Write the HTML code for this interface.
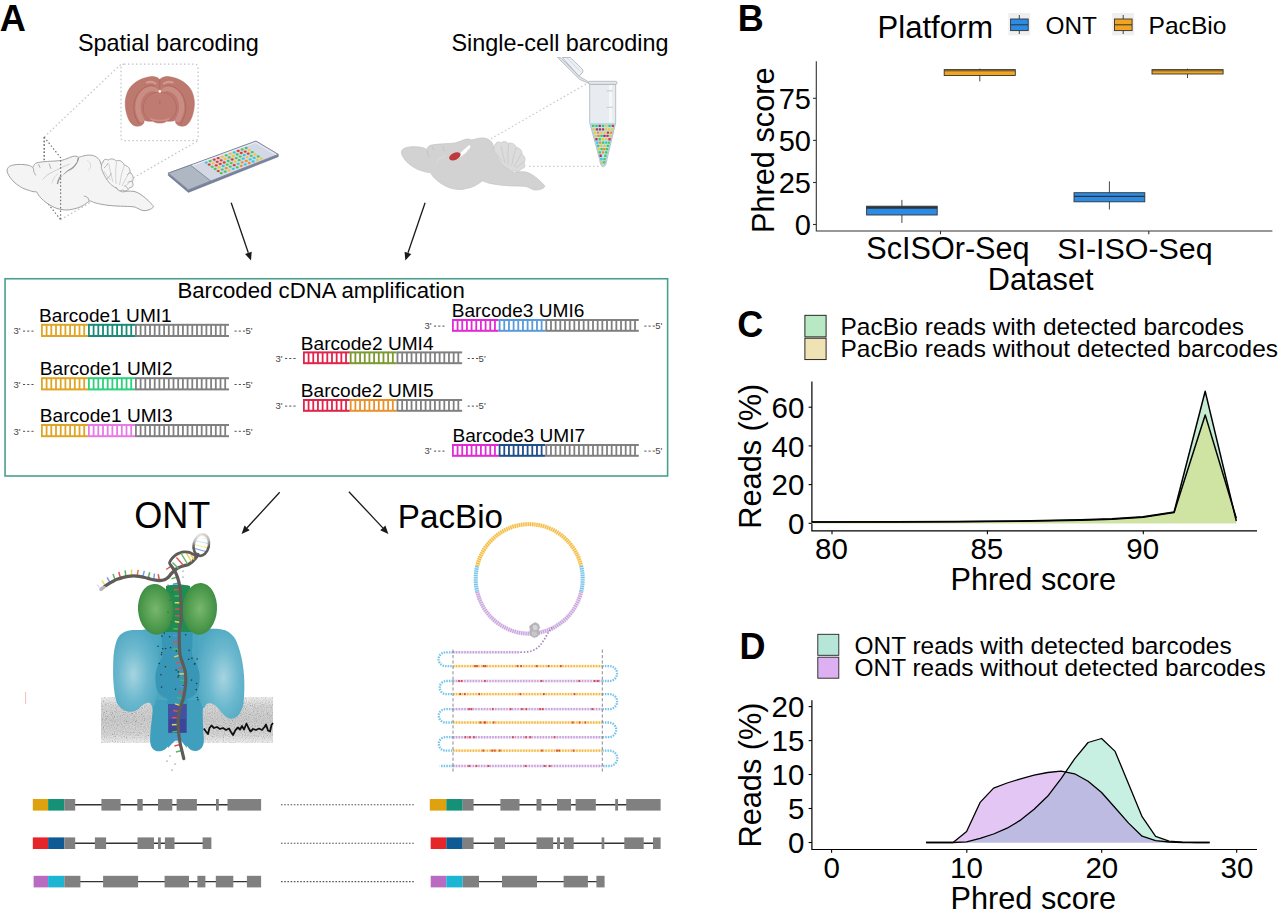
<!DOCTYPE html>
<html><head><meta charset="utf-8"><title>Figure</title>
<style>html,body{margin:0;padding:0;background:#fff;}svg{display:block}text{font-family:"Liberation Sans",sans-serif;}</style>
</head><body>
<svg width="1280" height="911" viewBox="0 0 1280 911">
<rect width="1280" height="911" fill="#fff"/>
<text x="-0.16" y="30.75" font-size="36.20" font-weight="bold" fill="#000" >A</text>
<text x="737.76" y="30.60" font-size="36.00" font-weight="bold" fill="#000" >B</text>
<text x="737.16" y="337.00" font-size="36.00" font-weight="bold" fill="#000" >C</text>
<text x="739.56" y="658.60" font-size="36.00" font-weight="bold" fill="#000" >D</text>
<text x="77.95" y="51.20" font-size="23.40" fill="#000" >Spatial barcoding</text>
<text x="451.45" y="51.20" font-size="23.40" fill="#000" >Single-cell barcoding</text>
<text x="177.42" y="297.80" font-size="22.20" fill="#000" >Barcoded cDNA amplification</text>
<text x="134.18" y="528.30" font-size="36.10" fill="#000" >ONT</text>
<text x="397.84" y="528.00" font-size="33.20" fill="#000" >PacBio</text>
<line x1="231.2" y1="202.7" x2="248.3" y2="252.8" stroke="#1a1a1a" stroke-width="1.3"/>
<polygon points="251.0,260.6 245.0,254.0 251.7,251.7" fill="#1a1a1a"/>
<line x1="425.1" y1="202.7" x2="408.0" y2="252.8" stroke="#1a1a1a" stroke-width="1.3"/>
<polygon points="405.3,260.6 404.6,251.7 411.3,254.0" fill="#1a1a1a"/>
<line x1="279.7" y1="492.2" x2="247.1" y2="527.8" stroke="#1a1a1a" stroke-width="1.3"/>
<polygon points="241.6,533.9 244.5,525.5 249.7,530.2" fill="#1a1a1a"/>
<line x1="348.9" y1="491.7" x2="382.8" y2="527.9" stroke="#1a1a1a" stroke-width="1.3"/>
<polygon points="388.4,533.9 380.2,530.3 385.4,525.5" fill="#1a1a1a"/>
<rect x="5.05" y="278.75" width="662.55" height="197.25" fill="none" stroke="#4a9e8f" stroke-width="1.6"/>
<rect x="41.00" y="323.80" width="47.00" height="2.0" fill="#e0a526"/>
<rect x="41.00" y="335.00" width="47.00" height="2.0" fill="#e0a526"/>
<path d="M41.90 324.80V336.00 M46.60 324.80V336.00 M51.30 324.80V336.00 M56.00 324.80V336.00 M60.70 324.80V336.00 M65.40 324.80V336.00 M70.10 324.80V336.00 M74.80 324.80V336.00 M79.50 324.80V336.00 M84.20 324.80V336.00" stroke="#e0a526" stroke-width="1.8" fill="none"/>
<rect x="88.00" y="323.80" width="47.00" height="2.0" fill="#1b8a78"/>
<rect x="88.00" y="335.00" width="47.00" height="2.0" fill="#1b8a78"/>
<path d="M88.90 324.80V336.00 M93.60 324.80V336.00 M98.30 324.80V336.00 M103.00 324.80V336.00 M107.70 324.80V336.00 M112.40 324.80V336.00 M117.10 324.80V336.00 M121.80 324.80V336.00 M126.50 324.80V336.00 M131.20 324.80V336.00" stroke="#1b8a78" stroke-width="1.8" fill="none"/>
<rect x="135.00" y="323.80" width="94.00" height="2.0" fill="#808080"/>
<rect x="135.00" y="335.00" width="94.00" height="2.0" fill="#808080"/>
<path d="M135.90 324.80V336.00 M140.60 324.80V336.00 M145.30 324.80V336.00 M150.00 324.80V336.00 M154.70 324.80V336.00 M159.40 324.80V336.00 M164.10 324.80V336.00 M168.80 324.80V336.00 M173.50 324.80V336.00 M178.20 324.80V336.00 M182.90 324.80V336.00 M187.60 324.80V336.00 M192.30 324.80V336.00 M197.00 324.80V336.00 M201.70 324.80V336.00 M206.40 324.80V336.00 M211.10 324.80V336.00 M215.80 324.80V336.00 M220.50 324.80V336.00 M225.20 324.80V336.00" stroke="#808080" stroke-width="1.8" fill="none"/>
<text x="13.5" y="334.3" font-size="9.5" fill="#444">3'</text>
<path d="M23.0 331.09999999999997h11" stroke="#555" stroke-width="1" stroke-dasharray="2.2 2" fill="none"/>
<path d="M234.5 331.09999999999997h11" stroke="#555" stroke-width="1" stroke-dasharray="2.2 2" fill="none"/>
<text x="245.5" y="334.3" font-size="9.5" fill="#444">5'</text>
<text x="39.07" y="321.90" font-size="19.10" fill="#000" >Barcode1 UMI1</text>
<rect x="41.00" y="377.20" width="47.00" height="2.0" fill="#e0a526"/>
<rect x="41.00" y="388.40" width="47.00" height="2.0" fill="#e0a526"/>
<path d="M41.90 378.20V389.40 M46.60 378.20V389.40 M51.30 378.20V389.40 M56.00 378.20V389.40 M60.70 378.20V389.40 M65.40 378.20V389.40 M70.10 378.20V389.40 M74.80 378.20V389.40 M79.50 378.20V389.40 M84.20 378.20V389.40" stroke="#e0a526" stroke-width="1.8" fill="none"/>
<rect x="88.00" y="377.20" width="47.00" height="2.0" fill="#2dd17c"/>
<rect x="88.00" y="388.40" width="47.00" height="2.0" fill="#2dd17c"/>
<path d="M88.90 378.20V389.40 M93.60 378.20V389.40 M98.30 378.20V389.40 M103.00 378.20V389.40 M107.70 378.20V389.40 M112.40 378.20V389.40 M117.10 378.20V389.40 M121.80 378.20V389.40 M126.50 378.20V389.40 M131.20 378.20V389.40" stroke="#2dd17c" stroke-width="1.8" fill="none"/>
<rect x="135.00" y="377.20" width="94.00" height="2.0" fill="#808080"/>
<rect x="135.00" y="388.40" width="94.00" height="2.0" fill="#808080"/>
<path d="M135.90 378.20V389.40 M140.60 378.20V389.40 M145.30 378.20V389.40 M150.00 378.20V389.40 M154.70 378.20V389.40 M159.40 378.20V389.40 M164.10 378.20V389.40 M168.80 378.20V389.40 M173.50 378.20V389.40 M178.20 378.20V389.40 M182.90 378.20V389.40 M187.60 378.20V389.40 M192.30 378.20V389.40 M197.00 378.20V389.40 M201.70 378.20V389.40 M206.40 378.20V389.40 M211.10 378.20V389.40 M215.80 378.20V389.40 M220.50 378.20V389.40 M225.20 378.20V389.40" stroke="#808080" stroke-width="1.8" fill="none"/>
<text x="13.5" y="387.7" font-size="9.5" fill="#444">3'</text>
<path d="M23.0 384.49999999999994h11" stroke="#555" stroke-width="1" stroke-dasharray="2.2 2" fill="none"/>
<path d="M234.5 384.49999999999994h11" stroke="#555" stroke-width="1" stroke-dasharray="2.2 2" fill="none"/>
<text x="245.5" y="387.7" font-size="9.5" fill="#444">5'</text>
<text x="39.87" y="374.80" font-size="19.10" fill="#000" >Barcode1 UMI2</text>
<rect x="41.00" y="424.00" width="47.00" height="2.0" fill="#e0a526"/>
<rect x="41.00" y="435.20" width="47.00" height="2.0" fill="#e0a526"/>
<path d="M41.90 425.00V436.20 M46.60 425.00V436.20 M51.30 425.00V436.20 M56.00 425.00V436.20 M60.70 425.00V436.20 M65.40 425.00V436.20 M70.10 425.00V436.20 M74.80 425.00V436.20 M79.50 425.00V436.20 M84.20 425.00V436.20" stroke="#e0a526" stroke-width="1.8" fill="none"/>
<rect x="88.00" y="424.00" width="47.00" height="2.0" fill="#e67be8"/>
<rect x="88.00" y="435.20" width="47.00" height="2.0" fill="#e67be8"/>
<path d="M88.90 425.00V436.20 M93.60 425.00V436.20 M98.30 425.00V436.20 M103.00 425.00V436.20 M107.70 425.00V436.20 M112.40 425.00V436.20 M117.10 425.00V436.20 M121.80 425.00V436.20 M126.50 425.00V436.20 M131.20 425.00V436.20" stroke="#e67be8" stroke-width="1.8" fill="none"/>
<rect x="135.00" y="424.00" width="94.00" height="2.0" fill="#808080"/>
<rect x="135.00" y="435.20" width="94.00" height="2.0" fill="#808080"/>
<path d="M135.90 425.00V436.20 M140.60 425.00V436.20 M145.30 425.00V436.20 M150.00 425.00V436.20 M154.70 425.00V436.20 M159.40 425.00V436.20 M164.10 425.00V436.20 M168.80 425.00V436.20 M173.50 425.00V436.20 M178.20 425.00V436.20 M182.90 425.00V436.20 M187.60 425.00V436.20 M192.30 425.00V436.20 M197.00 425.00V436.20 M201.70 425.00V436.20 M206.40 425.00V436.20 M211.10 425.00V436.20 M215.80 425.00V436.20 M220.50 425.00V436.20 M225.20 425.00V436.20" stroke="#808080" stroke-width="1.8" fill="none"/>
<text x="13.5" y="434.5" font-size="9.5" fill="#444">3'</text>
<path d="M23.0 431.3h11" stroke="#555" stroke-width="1" stroke-dasharray="2.2 2" fill="none"/>
<path d="M234.5 431.3h11" stroke="#555" stroke-width="1" stroke-dasharray="2.2 2" fill="none"/>
<text x="245.5" y="434.5" font-size="9.5" fill="#444">5'</text>
<text x="39.87" y="422.00" font-size="19.10" fill="#000" >Barcode1 UMI3</text>
<rect x="303.00" y="351.40" width="46.80" height="2.0" fill="#e0244a"/>
<rect x="303.00" y="362.20" width="46.80" height="2.0" fill="#e0244a"/>
<path d="M303.90 352.40V363.20 M308.58 352.40V363.20 M313.26 352.40V363.20 M317.94 352.40V363.20 M322.62 352.40V363.20 M327.30 352.40V363.20 M331.98 352.40V363.20 M336.66 352.40V363.20 M341.34 352.40V363.20 M346.02 352.40V363.20" stroke="#e0244a" stroke-width="1.8" fill="none"/>
<rect x="349.80" y="351.40" width="46.80" height="2.0" fill="#7b9a30"/>
<rect x="349.80" y="362.20" width="46.80" height="2.0" fill="#7b9a30"/>
<path d="M350.70 352.40V363.20 M355.38 352.40V363.20 M360.06 352.40V363.20 M364.74 352.40V363.20 M369.42 352.40V363.20 M374.10 352.40V363.20 M378.78 352.40V363.20 M383.46 352.40V363.20 M388.14 352.40V363.20 M392.82 352.40V363.20" stroke="#7b9a30" stroke-width="1.8" fill="none"/>
<rect x="396.60" y="351.40" width="65.52" height="2.0" fill="#808080"/>
<rect x="396.60" y="362.20" width="65.52" height="2.0" fill="#808080"/>
<path d="M397.50 352.40V363.20 M402.18 352.40V363.20 M406.86 352.40V363.20 M411.54 352.40V363.20 M416.22 352.40V363.20 M420.90 352.40V363.20 M425.58 352.40V363.20 M430.26 352.40V363.20 M434.94 352.40V363.20 M439.62 352.40V363.20 M444.30 352.40V363.20 M448.98 352.40V363.20 M453.66 352.40V363.20 M458.34 352.40V363.20" stroke="#808080" stroke-width="1.8" fill="none"/>
<text x="275.5" y="361.7" font-size="9.5" fill="#444">3'</text>
<path d="M285.0 358.49999999999994h11" stroke="#555" stroke-width="1" stroke-dasharray="2.2 2" fill="none"/>
<path d="M467.6 358.49999999999994h11" stroke="#555" stroke-width="1" stroke-dasharray="2.2 2" fill="none"/>
<text x="478.6" y="361.7" font-size="9.5" fill="#444">5'</text>
<text x="300.87" y="349.60" font-size="19.10" fill="#000" >Barcode2 UMI4</text>
<rect x="303.00" y="399.00" width="46.80" height="2.0" fill="#e0244a"/>
<rect x="303.00" y="409.80" width="46.80" height="2.0" fill="#e0244a"/>
<path d="M303.90 400.00V410.80 M308.58 400.00V410.80 M313.26 400.00V410.80 M317.94 400.00V410.80 M322.62 400.00V410.80 M327.30 400.00V410.80 M331.98 400.00V410.80 M336.66 400.00V410.80 M341.34 400.00V410.80 M346.02 400.00V410.80" stroke="#e0244a" stroke-width="1.8" fill="none"/>
<rect x="349.80" y="399.00" width="46.80" height="2.0" fill="#e8922e"/>
<rect x="349.80" y="409.80" width="46.80" height="2.0" fill="#e8922e"/>
<path d="M350.70 400.00V410.80 M355.38 400.00V410.80 M360.06 400.00V410.80 M364.74 400.00V410.80 M369.42 400.00V410.80 M374.10 400.00V410.80 M378.78 400.00V410.80 M383.46 400.00V410.80 M388.14 400.00V410.80 M392.82 400.00V410.80" stroke="#e8922e" stroke-width="1.8" fill="none"/>
<rect x="396.60" y="399.00" width="65.52" height="2.0" fill="#808080"/>
<rect x="396.60" y="409.80" width="65.52" height="2.0" fill="#808080"/>
<path d="M397.50 400.00V410.80 M402.18 400.00V410.80 M406.86 400.00V410.80 M411.54 400.00V410.80 M416.22 400.00V410.80 M420.90 400.00V410.80 M425.58 400.00V410.80 M430.26 400.00V410.80 M434.94 400.00V410.80 M439.62 400.00V410.80 M444.30 400.00V410.80 M448.98 400.00V410.80 M453.66 400.00V410.80 M458.34 400.00V410.80" stroke="#808080" stroke-width="1.8" fill="none"/>
<text x="275.5" y="409.3" font-size="9.5" fill="#444">3'</text>
<path d="M285.0 406.09999999999997h11" stroke="#555" stroke-width="1" stroke-dasharray="2.2 2" fill="none"/>
<path d="M467.6 406.09999999999997h11" stroke="#555" stroke-width="1" stroke-dasharray="2.2 2" fill="none"/>
<text x="478.6" y="409.3" font-size="9.5" fill="#444">5'</text>
<text x="300.87" y="397.20" font-size="19.10" fill="#000" >Barcode2 UMI5</text>
<rect x="452.00" y="319.00" width="46.70" height="2.0" fill="#e22ad6"/>
<rect x="452.00" y="329.80" width="46.70" height="2.0" fill="#e22ad6"/>
<path d="M452.90 320.00V330.80 M457.57 320.00V330.80 M462.24 320.00V330.80 M466.91 320.00V330.80 M471.58 320.00V330.80 M476.25 320.00V330.80 M480.92 320.00V330.80 M485.59 320.00V330.80 M490.26 320.00V330.80 M494.93 320.00V330.80" stroke="#e22ad6" stroke-width="1.8" fill="none"/>
<rect x="498.70" y="319.00" width="46.70" height="2.0" fill="#5b9bd9"/>
<rect x="498.70" y="329.80" width="46.70" height="2.0" fill="#5b9bd9"/>
<path d="M499.60 320.00V330.80 M504.27 320.00V330.80 M508.94 320.00V330.80 M513.61 320.00V330.80 M518.28 320.00V330.80 M522.95 320.00V330.80 M527.62 320.00V330.80 M532.29 320.00V330.80 M536.96 320.00V330.80 M541.63 320.00V330.80" stroke="#5b9bd9" stroke-width="1.8" fill="none"/>
<rect x="545.40" y="319.00" width="93.40" height="2.0" fill="#808080"/>
<rect x="545.40" y="329.80" width="93.40" height="2.0" fill="#808080"/>
<path d="M546.30 320.00V330.80 M550.97 320.00V330.80 M555.64 320.00V330.80 M560.31 320.00V330.80 M564.98 320.00V330.80 M569.65 320.00V330.80 M574.32 320.00V330.80 M578.99 320.00V330.80 M583.66 320.00V330.80 M588.33 320.00V330.80 M593.00 320.00V330.80 M597.67 320.00V330.80 M602.34 320.00V330.80 M607.01 320.00V330.80 M611.68 320.00V330.80 M616.35 320.00V330.80 M621.02 320.00V330.80 M625.69 320.00V330.80 M630.36 320.00V330.80 M635.03 320.00V330.80" stroke="#808080" stroke-width="1.8" fill="none"/>
<text x="424.5" y="329.3" font-size="9.5" fill="#444">3'</text>
<path d="M434.0 326.09999999999997h11" stroke="#555" stroke-width="1" stroke-dasharray="2.2 2" fill="none"/>
<path d="M644.3 326.09999999999997h11" stroke="#555" stroke-width="1" stroke-dasharray="2.2 2" fill="none"/>
<text x="655.3" y="329.3" font-size="9.5" fill="#444">5'</text>
<text x="451.67" y="316.80" font-size="19.10" fill="#000" >Barcode3 UMI6</text>
<rect x="452.00" y="444.00" width="46.70" height="2.0" fill="#e22ad6"/>
<rect x="452.00" y="454.80" width="46.70" height="2.0" fill="#e22ad6"/>
<path d="M452.90 445.00V455.80 M457.57 445.00V455.80 M462.24 445.00V455.80 M466.91 445.00V455.80 M471.58 445.00V455.80 M476.25 445.00V455.80 M480.92 445.00V455.80 M485.59 445.00V455.80 M490.26 445.00V455.80 M494.93 445.00V455.80" stroke="#e22ad6" stroke-width="1.8" fill="none"/>
<rect x="498.70" y="444.00" width="46.70" height="2.0" fill="#1f4e8c"/>
<rect x="498.70" y="454.80" width="46.70" height="2.0" fill="#1f4e8c"/>
<path d="M499.60 445.00V455.80 M504.27 445.00V455.80 M508.94 445.00V455.80 M513.61 445.00V455.80 M518.28 445.00V455.80 M522.95 445.00V455.80 M527.62 445.00V455.80 M532.29 445.00V455.80 M536.96 445.00V455.80 M541.63 445.00V455.80" stroke="#1f4e8c" stroke-width="1.8" fill="none"/>
<rect x="545.40" y="444.00" width="93.40" height="2.0" fill="#808080"/>
<rect x="545.40" y="454.80" width="93.40" height="2.0" fill="#808080"/>
<path d="M546.30 445.00V455.80 M550.97 445.00V455.80 M555.64 445.00V455.80 M560.31 445.00V455.80 M564.98 445.00V455.80 M569.65 445.00V455.80 M574.32 445.00V455.80 M578.99 445.00V455.80 M583.66 445.00V455.80 M588.33 445.00V455.80 M593.00 445.00V455.80 M597.67 445.00V455.80 M602.34 445.00V455.80 M607.01 445.00V455.80 M611.68 445.00V455.80 M616.35 445.00V455.80 M621.02 445.00V455.80 M625.69 445.00V455.80 M630.36 445.00V455.80 M635.03 445.00V455.80" stroke="#808080" stroke-width="1.8" fill="none"/>
<text x="424.5" y="454.3" font-size="9.5" fill="#444">3'</text>
<path d="M434.0 451.09999999999997h11" stroke="#555" stroke-width="1" stroke-dasharray="2.2 2" fill="none"/>
<path d="M644.3 451.09999999999997h11" stroke="#555" stroke-width="1" stroke-dasharray="2.2 2" fill="none"/>
<text x="655.3" y="454.3" font-size="9.5" fill="#444">5'</text>
<text x="452.47" y="442.40" font-size="19.10" fill="#000" >Barcode3 UMI7</text>
<line x1="75" y1="804.8" x2="228" y2="804.8" stroke="#333" stroke-width="1.4"/>
<rect x="32.8" y="799.0" width="15.3" height="11.6" fill="#dfa20f"/>
<rect x="48.1" y="799.0" width="16.2" height="11.6" fill="#159178"/>
<rect x="64.3" y="799.0" width="10.9" height="11.6" fill="#808080"/>
<rect x="101.4" y="799.0" width="19.2" height="11.6" fill="#808080"/>
<rect x="137.3" y="799.0" width="5.4" height="11.6" fill="#808080"/>
<rect x="158" y="799.0" width="14.3" height="11.6" fill="#808080"/>
<rect x="176.6" y="799.0" width="20.3" height="11.6" fill="#808080"/>
<rect x="216" y="799.0" width="2.8" height="11.6" fill="#808080"/>
<rect x="227.5" y="799.0" width="33.6" height="11.6" fill="#808080"/>
<line x1="75" y1="843.2" x2="203" y2="843.2" stroke="#333" stroke-width="1.4"/>
<rect x="32.8" y="837.4" width="15.3" height="11.6" fill="#e52528"/>
<rect x="48.1" y="837.4" width="16.2" height="11.6" fill="#0e5a94"/>
<rect x="64.3" y="837.4" width="10.9" height="11.6" fill="#808080"/>
<rect x="94.9" y="837.4" width="11.2" height="11.6" fill="#808080"/>
<rect x="137.5" y="837.4" width="16.5" height="11.6" fill="#808080"/>
<rect x="158" y="837.4" width="2.8" height="11.6" fill="#808080"/>
<rect x="164.9" y="837.4" width="9.6" height="11.6" fill="#808080"/>
<rect x="202.6" y="837.4" width="8.8" height="11.6" fill="#808080"/>
<line x1="80" y1="881.6" x2="247" y2="881.6" stroke="#333" stroke-width="1.4"/>
<rect x="33.6" y="875.8" width="14.5" height="11.6" fill="#b96bc1"/>
<rect x="48.1" y="875.8" width="16.2" height="11.6" fill="#1cb5d4"/>
<rect x="64.3" y="875.8" width="16.1" height="11.6" fill="#808080"/>
<rect x="103.1" y="875.8" width="35.0" height="11.6" fill="#808080"/>
<rect x="164.6" y="875.8" width="24.4" height="11.6" fill="#808080"/>
<rect x="197.4" y="875.8" width="8.0" height="11.6" fill="#808080"/>
<rect x="215.8" y="875.8" width="17.5" height="11.6" fill="#808080"/>
<rect x="246.9" y="875.8" width="14.2" height="11.6" fill="#808080"/>
<line x1="473" y1="804.8" x2="627" y2="804.8" stroke="#333" stroke-width="1.4"/>
<rect x="429.8" y="799.0" width="16.5" height="11.6" fill="#dfa20f"/>
<rect x="446.3" y="799.0" width="16.4" height="11.6" fill="#159178"/>
<rect x="462.7" y="799.0" width="10.9" height="11.6" fill="#808080"/>
<rect x="500.4" y="799.0" width="19.1" height="11.6" fill="#808080"/>
<rect x="536.5" y="799.0" width="4.9" height="11.6" fill="#808080"/>
<rect x="557" y="799.0" width="14.0" height="11.6" fill="#808080"/>
<rect x="575.6" y="799.0" width="20.2" height="11.6" fill="#808080"/>
<rect x="615.2" y="799.0" width="2.8" height="11.6" fill="#808080"/>
<rect x="626.2" y="799.0" width="34.4" height="11.6" fill="#808080"/>
<line x1="473" y1="843.2" x2="654" y2="843.2" stroke="#333" stroke-width="1.4"/>
<rect x="430.7" y="837.4" width="15.6" height="11.6" fill="#e52528"/>
<rect x="446.3" y="837.4" width="16.4" height="11.6" fill="#0e5a94"/>
<rect x="462.7" y="837.4" width="10.9" height="11.6" fill="#808080"/>
<rect x="494.1" y="837.4" width="10.9" height="11.6" fill="#808080"/>
<rect x="536.5" y="837.4" width="16.7" height="11.6" fill="#808080"/>
<rect x="557" y="837.4" width="3.0" height="11.6" fill="#808080"/>
<rect x="563.8" y="837.4" width="9.9" height="11.6" fill="#808080"/>
<rect x="601.6" y="837.4" width="2.7" height="11.6" fill="#808080"/>
<rect x="624.3" y="837.4" width="19.4" height="11.6" fill="#808080"/>
<rect x="653" y="837.4" width="7.6" height="11.6" fill="#808080"/>
<line x1="478" y1="881.6" x2="597" y2="881.6" stroke="#333" stroke-width="1.4"/>
<rect x="430.7" y="875.8" width="15.6" height="11.6" fill="#b96bc1"/>
<rect x="446.3" y="875.8" width="16.4" height="11.6" fill="#1cb5d4"/>
<rect x="462.7" y="875.8" width="16.3" height="11.6" fill="#808080"/>
<rect x="502" y="875.8" width="35.0" height="11.6" fill="#808080"/>
<rect x="563.6" y="875.8" width="24.3" height="11.6" fill="#808080"/>
<rect x="596.4" y="875.8" width="8.2" height="11.6" fill="#808080"/>
<line x1="281" y1="804.8" x2="415" y2="804.8" stroke="#555" stroke-width="1.1" stroke-dasharray="1.6 1.6"/>
<line x1="281" y1="843.2" x2="415" y2="843.2" stroke="#555" stroke-width="1.1" stroke-dasharray="1.6 1.6"/>
<line x1="281" y1="881.6" x2="415" y2="881.6" stroke="#555" stroke-width="1.1" stroke-dasharray="1.6 1.6"/>
<defs><path id="brainB" d="M32.9 167.6C33.1 167.1 33.6 165.4 34.3 164.6C35.0 163.8 35.2 163.3 37.0 162.8C38.8 162.3 42.1 161.9 45.1 161.6C48.1 161.3 52.2 161.2 55.0 161.0C57.8 160.8 59.9 160.7 61.9 160.3C63.9 159.9 65.3 159.2 67.0 158.6C68.7 158.0 70.7 157.0 72.2 156.6C73.7 156.2 74.9 156.1 76.0 156.2C77.1 156.3 78.2 157.1 78.6 157.3C79.2 157.1 81.2 156.5 82.5 156.2C83.8 155.9 85.2 155.5 86.5 155.3C87.8 155.1 88.9 155.0 90.2 155.1C91.5 155.2 93.2 155.4 94.5 156.0C95.8 156.6 97.1 157.6 98.0 158.4C98.9 159.2 99.5 159.9 100.0 161.0C100.5 162.1 101.0 164.2 101.2 164.8C102.0 166.7 104.0 172.6 106.0 176.0C108.0 179.4 110.5 182.4 113.0 185.0C115.5 187.6 118.9 190.5 121.2 191.5C123.5 192.5 124.9 191.2 127.0 191.2C129.1 191.2 131.8 190.9 134.0 191.4C136.2 191.9 138.1 192.8 140.0 194.0C141.9 195.2 144.0 196.9 145.7 198.3C147.4 199.7 148.7 201.1 150.0 202.5C151.3 203.9 153.6 205.5 153.4 206.7C153.2 207.9 150.7 209.2 149.0 209.8C147.3 210.5 144.9 210.8 143.1 210.6C141.3 210.4 139.5 209.1 138.0 208.5C136.5 207.9 136.2 207.3 134.0 206.9C131.8 206.5 128.0 206.5 125.0 206.3C122.0 206.2 118.8 206.2 116.0 206.0C113.2 205.8 110.6 205.6 108.0 205.3C105.4 205.0 102.7 204.5 100.5 204.1C98.3 203.7 96.7 203.3 95.0 202.8C93.3 202.3 91.0 201.2 90.2 200.9C90.0 201.0 90.1 200.7 88.9 201.5C87.7 202.3 84.9 204.4 83.0 205.5C81.1 206.6 79.5 207.3 77.3 208.0C75.1 208.7 72.2 209.4 70.0 209.7C67.8 210.0 66.6 210.1 64.4 209.9C62.2 209.7 59.1 209.2 57.0 208.5C54.9 207.8 53.4 207.0 51.6 206.0C49.8 205.0 47.7 203.8 46.0 202.5C44.3 201.2 42.5 199.6 41.2 198.3C40.0 197.1 39.2 196.1 38.5 195.0C37.8 193.9 37.0 192.4 36.7 191.9C36.1 191.8 34.2 191.8 33.0 191.6C31.8 191.4 31.1 191.1 29.6 190.6C28.1 190.1 25.7 189.4 24.0 188.7C22.3 187.9 21.0 187.2 19.3 186.1C17.6 185.0 15.5 183.4 14.0 182.0C12.5 180.6 11.3 179.1 10.3 177.7C9.3 176.3 8.3 174.8 7.8 173.5C7.3 172.2 7.0 171.1 7.1 170.0C7.2 168.9 7.8 167.9 8.5 167.2C9.2 166.4 10.1 165.9 11.5 165.5C12.9 165.1 14.7 164.7 16.8 164.5C18.9 164.3 21.9 164.4 24.0 164.6C26.1 164.8 28.1 165.1 29.6 165.6C31.1 166.1 32.4 167.3 32.9 167.6Z"/><path id="brainC" d="M101.8 164.0L101.9 163.6L102.0 163.2L102.1 162.9L102.3 162.6L102.4 162.3L102.6 162.0L102.8 161.8L103.5 162.0L103.5 161.5L103.6 161.1L103.6 160.7L103.8 160.3L104.0 160.0L104.3 159.8L104.6 159.6L105.1 159.5L105.6 159.4L106.2 159.4L106.8 159.5L107.5 159.7L108.2 159.8L108.9 160.1L109.2 159.8L109.6 159.5L110.1 159.2L110.5 159.1L111.0 158.9L111.5 158.9L112.1 158.9L112.7 159.0L113.3 159.2L113.9 159.4L114.5 159.7L115.1 160.1L115.7 160.5L116.3 160.9L116.8 160.7L117.4 160.6L118.0 160.5L118.6 160.5L119.3 160.6L120.0 160.8L120.6 161.0L121.3 161.4L121.9 161.8L122.5 162.4L123.0 163.0L123.5 163.6L123.8 164.2L124.2 164.9L124.9 165.1L125.6 165.4L126.3 165.7L127.0 166.1L127.6 166.6L128.2 167.1L128.7 167.6L129.1 168.2L129.5 168.8L129.7 169.5L129.9 170.1L130.0 170.8L130.1 171.4L130.1 172.1L130.7 172.7L131.3 173.4L131.8 174.1L132.2 174.8L132.6 175.6L132.9 176.4L133.1 177.1L133.1 177.9L133.2 178.5L133.1 179.2L132.9 179.8L132.8 180.4L132.5 181.0L132.2 181.5L132.5 182.2L132.7 183.0L132.9 183.6L133.0 184.3L133.0 184.9L132.9 185.4L132.8 185.9L132.5 186.3L132.2 186.7L131.8 187.0L131.3 187.2L130.7 187.4L130.1 187.5L129.5 187.6L129.2 188.2L128.9 188.7L128.6 189.2L128.2 189.6L127.8 190.0L127.3 190.3L126.8 190.6L126.2 190.7L125.6 190.8L125.0 190.8L124.3 190.7L123.7 190.5L123.0 190.3L122.4 190.0L122.0 190.2L121.5 190.4L121.1 190.6L120.6 190.7L120.1 190.7L119.6 190.7L119.1 190.5L118.7 190.3L118.2 190.0L117.8 189.6L117.4 189.1L117.0 188.5L116.5 187.9L116.1 187.3L115.4 187.6L114.8 187.3L114.2 186.9L113.6 186.5L112.9 186.0L112.2 185.6L111.6 185.0L111.0 184.5L110.4 183.9L109.8 183.3L109.2 182.6L108.7 181.9L108.1 181.2L107.5 180.5L107.0 179.7L106.5 179.0L106.0 178.2L105.5 177.4L105.0 176.5L104.6 175.7L104.1 174.8L103.7 174.0L103.3 173.2L103.0 172.5L102.7 171.8L102.4 171.2L102.2 170.6L102.0 170.1L101.8 169.6L101.7 169.0L101.6 168.5L101.5 168.0L101.4 167.5L101.4 166.9L101.4 166.4L101.5 165.9L101.5 165.4L101.6 164.9L101.7 164.4Z"/></defs>
<path d="M44.2 137.1V199L60.6 219.6" fill="none" stroke="#707070" stroke-width="1.15" stroke-dasharray="1.5 2.1"/>
<path d="M44.2 137.1L121 64.2M60.6 219.6L198.1 140.7" fill="none" stroke="#c6c6c6" stroke-width="1.3" stroke-dasharray="1.5 2.5"/>
<use href="#brainB" fill="#f4f4f4" stroke="#a2a2a2" stroke-width="1"/>
<use href="#brainC" fill="#f6f6f6" stroke="#a2a2a2" stroke-width="1" stroke-linejoin="round"/>
<path d="M57.4 184.1C57.7 183.2 58.2 180.5 59.0 179.0C59.8 177.5 60.6 176.3 61.9 175.1C63.1 173.8 64.8 172.7 66.5 171.5C68.2 170.3 70.7 169.4 72.2 168.2C73.7 167.0 74.7 165.6 75.5 164.5C76.3 163.4 76.8 162.6 77.3 161.5C77.8 160.4 78.4 158.3 78.6 157.7" fill="none" stroke="#9a9a9a" stroke-width="1.5"/>
<path d="M61.0 176.0C61.8 175.1 64.2 172.2 66.0 170.5C67.8 168.8 70.2 167.6 72.0 166.0C73.8 164.4 75.8 161.8 76.5 161.0" fill="none" stroke="#f8f8f8" stroke-width="1.6"/>
<path d="M42.5 179.6C43.4 178.8 45.6 176.1 48.0 174.5C50.4 172.9 54.2 171.3 56.7 170.0C59.2 168.7 60.9 167.8 63.0 166.8C65.2 165.8 68.5 164.6 69.6 164.2" fill="none" stroke="#c4c4c4" stroke-width="0.8"/>
<path d="M52.0 183.5C52.3 182.6 53.0 179.7 54.0 178.0C55.0 176.3 57.3 174.2 58.0 173.5" fill="none" stroke="#cfcfcf" stroke-width="0.8"/>
<path d="M38.7 164.2Q39 166 40.2 167.8M49.4 163.6Q49.8 166.5 51 168.8M33.2 168Q33.5 172.5 35.8 175.5" fill="none" stroke="#a9a9a9" stroke-width="0.9"/>
<path d="M83.8 196.0C84.3 196.2 86.0 196.5 86.8 197.0C87.6 197.5 88.2 198.2 88.6 199.0C88.9 199.8 88.9 201.1 88.9 201.5" fill="none" stroke="#a9a9a9" stroke-width="1"/>
<path d="M87.0 160.0C87.5 160.5 89.4 161.8 90.0 163.0C90.6 164.2 90.8 165.8 90.5 167.0C90.2 168.2 88.8 169.9 88.5 170.5" fill="none" stroke="#d4d4d4" stroke-width="0.8"/>
<path d="M113 182Q110 172 108.8 163.6M116 184Q115 171 116.5 161.2M119.5 185Q121 173 124.5 165M122 186Q126 178 129.6 171.5M124 187Q128 184 131.8 180M110.5 180Q106.5 176 103.6 171" fill="none" stroke="#c9c9c9" stroke-width="0.8"/>
<path d="M104 168Q107 166 108 163M106.5 179Q110 177 111.5 173M128 189Q127 186.5 124.5 185.5M132.3 181.5Q129.5 181 127.5 182.5M131 173Q128.5 173 127 175" fill="none" stroke="#a9a9a9" stroke-width="0.8"/>
<path d="M44.2 137.1L60.6 157.7V219.6M44.2 137.1V160" fill="none" stroke="#707070" stroke-width="1.15" stroke-dasharray="1.5 2.1"/>
<rect x="121" y="64.2" width="77.1" height="76.5" rx="3" fill="none" stroke="#bfc6ca" stroke-width="1.3" stroke-dasharray="1.5 2.5"/>
<path d="M159.8 79.5C157 76.5 153 76.2 150 76.8C140 78 131 84 127.5 92C125 98 124.7 104 125.8 110C127 116 129 122 133 125C136 126.8 140 126.6 142.5 124.6C144.6 122.6 144.2 121.5 143.6 120C146 121.2 150 121.6 153 121C155 123.8 164.6 123.8 166.6 121C169.6 121.6 173.6 121.2 176 120C175.4 121.5 175 122.6 177.1 124.6C179.6 126.6 183.6 126.8 186.6 125C190.6 122 192.6 116 193.8 110C194.9 104 194.6 98 192.1 92C188.6 84 179.6 78 169.6 76.8C166.6 76.2 162.6 76.5 159.8 79.5Z" fill="#be796f" stroke="#ad695f" stroke-width="0.5"/>
<path d="M141.5 119.5C135.5 109 137 96.5 146.5 90.2C151 87.6 155.5 88 158.3 90.8" fill="none" stroke="#ca8d83" stroke-width="5.2" stroke-linecap="round"/>
<path d="M178.1 119.5C184.1 109 182.6 96.5 173.1 90.2C168.6 87.6 164.1 88 161.3 90.8" fill="none" stroke="#ca8d83" stroke-width="5.2" stroke-linecap="round"/>
<path d="M139.5 124.5C130.5 112 132 94.5 145.5 87C150.5 84.6 156 85.6 159 89.6" fill="none" stroke="#a8655d" stroke-width="0.9"/>
<path d="M180.1 124.5C189.1 112 187.6 94.5 174.1 87C169.1 84.6 163.6 85.6 160.6 89.6" fill="none" stroke="#a8655d" stroke-width="0.9"/>
<path d="M147 82.5Q152 80.8 155.5 83.5M172.6 82.5Q167.6 80.8 164.1 83.5" fill="none" stroke="#d39a90" stroke-width="2.2" stroke-linecap="round"/>
<path d="M159.8 92.5C166 91.5 172 95 175 101C178 108 176 116 171 119.5C166 122 153.6 122 148.6 119.5C143.6 116 141.6 108 144.6 101C147.6 95 153.6 91.5 159.8 92.5Z" fill="#bf7b71" stroke="#ab665d" stroke-width="0.7"/>
<path d="M150 118.5Q154 121 159.8 120.6Q165.6 121 169.6 118.5" fill="none" stroke="#d08f86" stroke-width="1.6"/>
<path d="M159.8 79.5V90" stroke="#aa675f" stroke-width="0.8"/>
<path d="M159.8 100.5v3.5" stroke="#a8655d" stroke-width="0.8"/>
<circle cx="159.8" cy="91.4" r="1.3" fill="#fdf3ee"/>
<polygon points="168.3,173.2 188.4,189.9 278.3,154.4 278.3,156.7 188.4,192.4 168.3,175.5" fill="#76819a" stroke="#6a748a" stroke-width="0.5"/>
<polygon points="168.3,173.2 188.4,189.9 278.3,154.4 256.0,141.0" fill="#d3d8e6" stroke="#7d879b" stroke-width="1"/>
<polygon points="168.3,173.2 188.4,189.9 210.8,181 190.5,165.2" fill="#afb7c3" stroke="#7d879b" stroke-width="0.9"/>
<path d="M192.3 165.6L255.6 142.6L275.8 154.6" fill="none" stroke="#eef1f7" stroke-width="0.9"/>
<ellipse cx="206.2" cy="162.6" rx="1.6" ry="1.15" fill="#2fc9da"/>
<ellipse cx="210.2" cy="161.1" rx="1.6" ry="1.15" fill="#4cc552"/>
<ellipse cx="214.2" cy="159.7" rx="1.6" ry="1.15" fill="#e23b2b"/>
<ellipse cx="218.2" cy="158.2" rx="1.6" ry="1.15" fill="#e23b2b"/>
<ellipse cx="222.2" cy="156.8" rx="1.6" ry="1.15" fill="#f4c531"/>
<ellipse cx="226.2" cy="155.3" rx="1.6" ry="1.15" fill="#4cc552"/>
<ellipse cx="230.2" cy="153.8" rx="1.6" ry="1.15" fill="#f4c531"/>
<ellipse cx="234.2" cy="152.4" rx="1.6" ry="1.15" fill="#2fc9da"/>
<ellipse cx="238.2" cy="150.9" rx="1.6" ry="1.15" fill="#e23b2b"/>
<ellipse cx="242.2" cy="149.5" rx="1.6" ry="1.15" fill="#4cc552"/>
<ellipse cx="246.2" cy="148.0" rx="1.6" ry="1.15" fill="#4cc552"/>
<ellipse cx="209.2" cy="164.7" rx="1.6" ry="1.15" fill="#e23b2b"/>
<ellipse cx="213.2" cy="163.3" rx="1.6" ry="1.15" fill="#f4c531"/>
<ellipse cx="217.2" cy="161.8" rx="1.6" ry="1.15" fill="#e23b2b"/>
<ellipse cx="221.2" cy="160.3" rx="1.6" ry="1.15" fill="#e23b2b"/>
<ellipse cx="225.2" cy="158.9" rx="1.6" ry="1.15" fill="#f4c531"/>
<ellipse cx="229.2" cy="157.4" rx="1.6" ry="1.15" fill="#4cc552"/>
<ellipse cx="233.2" cy="156.0" rx="1.6" ry="1.15" fill="#f4c531"/>
<ellipse cx="237.2" cy="154.5" rx="1.6" ry="1.15" fill="#4cc552"/>
<ellipse cx="241.2" cy="153.0" rx="1.6" ry="1.15" fill="#e23b2b"/>
<ellipse cx="245.2" cy="151.6" rx="1.6" ry="1.15" fill="#e23b2b"/>
<ellipse cx="249.2" cy="150.1" rx="1.6" ry="1.15" fill="#f4c531"/>
<ellipse cx="212.2" cy="166.8" rx="1.6" ry="1.15" fill="#4cc552"/>
<ellipse cx="216.2" cy="165.4" rx="1.6" ry="1.15" fill="#e23b2b"/>
<ellipse cx="220.2" cy="163.9" rx="1.6" ry="1.15" fill="#e23b2b"/>
<ellipse cx="224.2" cy="162.5" rx="1.6" ry="1.15" fill="#e23b2b"/>
<ellipse cx="228.2" cy="161.0" rx="1.6" ry="1.15" fill="#4cc552"/>
<ellipse cx="232.2" cy="159.5" rx="1.6" ry="1.15" fill="#e23b2b"/>
<ellipse cx="236.2" cy="158.1" rx="1.6" ry="1.15" fill="#4cc552"/>
<ellipse cx="240.2" cy="156.6" rx="1.6" ry="1.15" fill="#4cc552"/>
<ellipse cx="244.2" cy="155.2" rx="1.6" ry="1.15" fill="#2fc9da"/>
<ellipse cx="248.2" cy="153.7" rx="1.6" ry="1.15" fill="#e23b2b"/>
<ellipse cx="252.2" cy="152.2" rx="1.6" ry="1.15" fill="#4cc552"/>
<ellipse cx="215.2" cy="169.0" rx="1.6" ry="1.15" fill="#4cc552"/>
<ellipse cx="219.2" cy="167.5" rx="1.6" ry="1.15" fill="#f4c531"/>
<ellipse cx="223.2" cy="166.0" rx="1.6" ry="1.15" fill="#2fc9da"/>
<ellipse cx="227.2" cy="164.6" rx="1.6" ry="1.15" fill="#4cc552"/>
<ellipse cx="231.2" cy="163.1" rx="1.6" ry="1.15" fill="#4cc552"/>
<ellipse cx="235.2" cy="161.7" rx="1.6" ry="1.15" fill="#f4c531"/>
<ellipse cx="239.2" cy="160.2" rx="1.6" ry="1.15" fill="#4cc552"/>
<ellipse cx="243.2" cy="158.7" rx="1.6" ry="1.15" fill="#2fc9da"/>
<ellipse cx="247.2" cy="157.3" rx="1.6" ry="1.15" fill="#f4c531"/>
<ellipse cx="251.2" cy="155.8" rx="1.6" ry="1.15" fill="#4cc552"/>
<ellipse cx="255.2" cy="154.4" rx="1.6" ry="1.15" fill="#f4c531"/>
<ellipse cx="218.2" cy="171.1" rx="1.6" ry="1.15" fill="#e23b2b"/>
<ellipse cx="222.2" cy="169.6" rx="1.6" ry="1.15" fill="#4cc552"/>
<ellipse cx="226.2" cy="168.2" rx="1.6" ry="1.15" fill="#f18c2a"/>
<ellipse cx="230.2" cy="166.7" rx="1.6" ry="1.15" fill="#4cc552"/>
<ellipse cx="234.2" cy="165.2" rx="1.6" ry="1.15" fill="#e23b2b"/>
<ellipse cx="238.2" cy="163.8" rx="1.6" ry="1.15" fill="#2fc9da"/>
<ellipse cx="242.2" cy="162.3" rx="1.6" ry="1.15" fill="#f18c2a"/>
<ellipse cx="246.2" cy="160.9" rx="1.6" ry="1.15" fill="#f18c2a"/>
<ellipse cx="250.2" cy="159.4" rx="1.6" ry="1.15" fill="#2fc9da"/>
<ellipse cx="254.2" cy="157.9" rx="1.6" ry="1.15" fill="#2fc9da"/>
<ellipse cx="258.2" cy="156.5" rx="1.6" ry="1.15" fill="#4cc552"/>
<ellipse cx="221.2" cy="173.2" rx="1.6" ry="1.15" fill="#4cc552"/>
<ellipse cx="225.2" cy="171.7" rx="1.6" ry="1.15" fill="#4cc552"/>
<ellipse cx="229.2" cy="170.3" rx="1.6" ry="1.15" fill="#f4c531"/>
<ellipse cx="233.2" cy="168.8" rx="1.6" ry="1.15" fill="#2fc9da"/>
<ellipse cx="237.2" cy="167.4" rx="1.6" ry="1.15" fill="#4cc552"/>
<ellipse cx="241.2" cy="165.9" rx="1.6" ry="1.15" fill="#f18c2a"/>
<ellipse cx="245.2" cy="164.4" rx="1.6" ry="1.15" fill="#2fc9da"/>
<ellipse cx="249.2" cy="163.0" rx="1.6" ry="1.15" fill="#f18c2a"/>
<ellipse cx="253.2" cy="161.5" rx="1.6" ry="1.15" fill="#2fc9da"/>
<ellipse cx="257.2" cy="160.1" rx="1.6" ry="1.15" fill="#f4c531"/>
<ellipse cx="261.2" cy="158.6" rx="1.6" ry="1.15" fill="#f4c531"/>
<g transform="translate(394.5,-7.3) scale(0.98,0.937)">
<use href="#brainB" fill="#d2d2d2" stroke="#c6c6c6" stroke-width="0.8"/>
<use href="#brainC" fill="#dcdcdc" stroke="#c9c9c9" stroke-width="0.9"/>
<path d="M113 182Q110 172 108.8 163.6M116 184Q115 171 116.5 161.2M119.5 185Q121 173 124.5 165M122 186Q126 178 129.6 171.5M124 187Q128 184 131.8 180M110.5 180Q106.5 176 103.6 171" fill="none" stroke="#cbcbcb" stroke-width="1"/>
<path d="M66.5 176.2Q72.5 172.5 77.2 165.6Q77.9 163.4 76.4 162.6Q71 167 64.6 173.8Z" fill="#ffffff"/>
<path d="M38.7 164.2Q39 166 40.2 167.8M49.4 163.6Q49.8 166.5 51 168.8M33.2 168Q33.5 172.5 35.8 175.5" fill="none" stroke="#c2c2c2" stroke-width="1"/>
<ellipse cx="61.6" cy="174.6" rx="6.3" ry="3.7" transform="rotate(-27 61.6 174.6)" fill="#bf3a3c"/>
<path d="M42.5 181.0C43.4 180.2 46.2 177.2 48.0 176.0C49.8 174.8 52.2 173.9 53.0 173.5" fill="none" stroke="#dcdcdc" stroke-width="1"/>
</g>
<path d="M491 138.7L587.5 83.2M529 166.3H600" fill="none" stroke="#cacaca" stroke-width="1.3" stroke-dasharray="1.5 2.5"/>
<polygon points="557.5,57.5 560.3,57.5 580.8,77.2 588.8,82 588.8,83.4 579.8,79.6" fill="#dfe3e8" stroke="#9aa3ab" stroke-width="0.6"/>
<path d="M562.3 57.5H570.3L582.3 69.2Q583.8 71.2 582.2 73L578.9 76.2Z" fill="#eceff3" stroke="#9aa3ab" stroke-width="0.7"/>
<path d="M566.5 57.5L580.5 71.5" stroke="#c9d0d6" stroke-width="0.7"/>
<path d="M589.7 84.3H615.7V122.7L607 159.3Q606 166.8 603.3 166.8Q600.6 166.8 599.6 159.3L589.7 122.7Z" fill="#e8ecf0" stroke="#b3bbc3" stroke-width="0.9"/>
<rect x="609" y="85" width="3.2" height="37" fill="#f4f6f8"/>
<path d="M590.7 123.8H614.7L606.1 159.2Q605.3 165.6 603.3 165.6Q601.3 165.6 600.5 159.2Z" fill="#b9e3f4" stroke="#8ecbe6" stroke-width="0.7"/>
<rect x="588.6" y="81.3" width="28.4" height="3" rx="1.2" fill="#e4e8ec" stroke="#a4acb4" stroke-width="0.7"/>
<path d="M606.7 90.9h6.2M606.7 107.3h6.2" stroke="#b9c0c7" stroke-width="0.8"/>
<rect x="592.0" y="124.8" width="2.3" height="2.3" rx="0.5" fill="#4cc552"/>
<rect x="595.3" y="124.8" width="2.3" height="2.3" rx="0.5" fill="#4cc552"/>
<rect x="598.6" y="124.8" width="2.3" height="2.3" rx="0.5" fill="#b0305a"/>
<rect x="601.9" y="124.8" width="2.3" height="2.3" rx="0.5" fill="#4cc552"/>
<rect x="605.1" y="124.8" width="2.3" height="2.3" rx="0.5" fill="#f4c531"/>
<rect x="608.4" y="124.8" width="2.3" height="2.3" rx="0.5" fill="#4cc552"/>
<rect x="611.7" y="124.8" width="2.3" height="2.3" rx="0.5" fill="#d8323a"/>
<rect x="592.8" y="128.2" width="2.3" height="2.3" rx="0.5" fill="#f4c531"/>
<rect x="595.8" y="128.2" width="2.3" height="2.3" rx="0.5" fill="#b0305a"/>
<rect x="598.8" y="128.2" width="2.3" height="2.3" rx="0.5" fill="#b0305a"/>
<rect x="601.9" y="128.2" width="2.3" height="2.3" rx="0.5" fill="#b0305a"/>
<rect x="604.9" y="128.2" width="2.3" height="2.3" rx="0.5" fill="#f4c531"/>
<rect x="607.9" y="128.2" width="2.3" height="2.3" rx="0.5" fill="#f4c531"/>
<rect x="610.9" y="128.2" width="2.3" height="2.3" rx="0.5" fill="#f4c531"/>
<rect x="593.7" y="131.5" width="2.3" height="2.3" rx="0.5" fill="#f4c531"/>
<rect x="596.9" y="131.5" width="2.3" height="2.3" rx="0.5" fill="#f18c2a"/>
<rect x="600.2" y="131.5" width="2.3" height="2.3" rx="0.5" fill="#f4c531"/>
<rect x="603.5" y="131.5" width="2.3" height="2.3" rx="0.5" fill="#f4c531"/>
<rect x="606.8" y="131.5" width="2.3" height="2.3" rx="0.5" fill="#d8323a"/>
<rect x="610.0" y="131.5" width="2.3" height="2.3" rx="0.5" fill="#f18c2a"/>
<rect x="594.5" y="134.8" width="2.3" height="2.3" rx="0.5" fill="#f4c531"/>
<rect x="597.4" y="134.8" width="2.3" height="2.3" rx="0.5" fill="#f18c2a"/>
<rect x="600.4" y="134.8" width="2.3" height="2.3" rx="0.5" fill="#4cc552"/>
<rect x="603.3" y="134.8" width="2.3" height="2.3" rx="0.5" fill="#b0305a"/>
<rect x="606.3" y="134.8" width="2.3" height="2.3" rx="0.5" fill="#d8323a"/>
<rect x="609.2" y="134.8" width="2.3" height="2.3" rx="0.5" fill="#f4c531"/>
<rect x="595.3" y="138.1" width="2.3" height="2.3" rx="0.5" fill="#b0305a"/>
<rect x="598.6" y="138.1" width="2.3" height="2.3" rx="0.5" fill="#4cc552"/>
<rect x="601.9" y="138.1" width="2.3" height="2.3" rx="0.5" fill="#f4c531"/>
<rect x="605.1" y="138.1" width="2.3" height="2.3" rx="0.5" fill="#f4c531"/>
<rect x="608.4" y="138.1" width="2.3" height="2.3" rx="0.5" fill="#d8323a"/>
<rect x="596.2" y="141.4" width="2.3" height="2.3" rx="0.5" fill="#2fc9da"/>
<rect x="599.0" y="141.4" width="2.3" height="2.3" rx="0.5" fill="#f18c2a"/>
<rect x="601.9" y="141.4" width="2.3" height="2.3" rx="0.5" fill="#4cc552"/>
<rect x="604.7" y="141.4" width="2.3" height="2.3" rx="0.5" fill="#2fc9da"/>
<rect x="607.5" y="141.4" width="2.3" height="2.3" rx="0.5" fill="#4cc552"/>
<rect x="597.0" y="144.7" width="2.3" height="2.3" rx="0.5" fill="#4cc552"/>
<rect x="600.2" y="144.7" width="2.3" height="2.3" rx="0.5" fill="#f4c531"/>
<rect x="603.5" y="144.7" width="2.3" height="2.3" rx="0.5" fill="#f4c531"/>
<rect x="606.7" y="144.7" width="2.3" height="2.3" rx="0.5" fill="#4cc552"/>
<rect x="597.8" y="148.0" width="2.3" height="2.3" rx="0.5" fill="#f4c531"/>
<rect x="600.5" y="148.0" width="2.3" height="2.3" rx="0.5" fill="#4cc552"/>
<rect x="603.2" y="148.0" width="2.3" height="2.3" rx="0.5" fill="#f18c2a"/>
<rect x="605.9" y="148.0" width="2.3" height="2.3" rx="0.5" fill="#4cc552"/>
<rect x="598.7" y="151.3" width="2.3" height="2.3" rx="0.5" fill="#4cc552"/>
<rect x="601.9" y="151.3" width="2.3" height="2.3" rx="0.5" fill="#f18c2a"/>
<rect x="605.0" y="151.3" width="2.3" height="2.3" rx="0.5" fill="#4cc552"/>
<rect x="599.5" y="154.6" width="2.3" height="2.3" rx="0.5" fill="#b0305a"/>
<rect x="604.2" y="154.6" width="2.3" height="2.3" rx="0.5" fill="#4cc552"/>
<rect x="600.3" y="157.9" width="2.3" height="2.3" rx="0.5" fill="#2fc9da"/>
<rect x="603.4" y="157.9" width="2.3" height="2.3" rx="0.5" fill="#4cc552"/>
<rect x="600.9" y="161.2" width="2.3" height="2.3" rx="0.5" fill="#f4c531"/>
<rect x="602.9" y="161.2" width="2.3" height="2.3" rx="0.5" fill="#4cc552"/><defs>
<linearGradient id="memb" x1="0" y1="0" x2="0" y2="1"><stop offset="0" stop-color="#ededed"/><stop offset="0.18" stop-color="#cfcfcf"/><stop offset="0.5" stop-color="#c2c2c2"/><stop offset="0.82" stop-color="#cfcfcf"/><stop offset="1" stop-color="#efefef"/></linearGradient>
<radialGradient id="lobeL" cx="0.45" cy="0.55" r="0.6"><stop offset="0" stop-color="#a6d4e0"/><stop offset="0.55" stop-color="#6bb8ce"/><stop offset="1" stop-color="#4fa8c2"/></radialGradient>
<radialGradient id="lobeR" cx="0.55" cy="0.55" r="0.6"><stop offset="0" stop-color="#a6d4e0"/><stop offset="0.55" stop-color="#6bb8ce"/><stop offset="1" stop-color="#4fa8c2"/></radialGradient>
<radialGradient id="grn" cx="0.5" cy="0.5" r="0.55"><stop offset="0" stop-color="#78b66e"/><stop offset="0.6" stop-color="#529d50"/><stop offset="1" stop-color="#3a8a42"/></radialGradient>
<filter id="nz" x="0" y="0" width="1" height="1"><feTurbulence type="fractalNoise" baseFrequency="0.9" numOctaves="2" seed="3" result="n"/><feColorMatrix in="n" type="matrix" values="2.2 0 0 0 -0.45  2.2 0 0 0 -0.45  2.2 0 0 0 -0.45  0 0 0 0 1"/><feComposite in2="SourceGraphic" operator="in"/></filter>
<filter id="b1"><feGaussianBlur stdDeviation="0.6"/></filter>
</defs>
<rect x="101" y="697" width="172" height="46" fill="url(#memb)"/>
<rect x="101" y="697" width="172" height="46" fill="#999" filter="url(#nz)" opacity="0.22"/>
<path d="M150.5 700.0C150.8 701.3 152.2 705.0 152.5 708.0C152.8 711.0 152.3 714.3 152.0 718.0C151.7 721.7 150.9 726.0 150.6 730.0C150.3 734.0 149.9 738.9 150.2 742.0C150.5 745.1 151.3 747.0 152.5 748.5C153.7 750.0 155.6 751.0 157.5 751.2C159.4 751.5 162.0 751.0 164.0 750.0C166.0 749.0 167.7 746.6 169.5 745.0C171.3 743.4 173.1 741.2 175.0 740.5C176.9 739.8 179.2 739.8 181.0 740.5C182.8 741.2 184.3 743.4 186.0 745.0C187.7 746.6 189.2 749.0 191.0 750.0C192.8 751.0 194.8 751.3 196.5 751.0C198.2 750.7 200.3 749.5 201.5 748.0C202.7 746.5 203.5 745.0 203.8 742.0C204.1 739.0 203.4 734.0 203.2 730.0C203.0 726.0 202.8 721.7 202.8 718.0C202.8 714.3 202.5 711.0 203.0 708.0C203.5 705.0 205.5 701.3 206.0 700.0L206 640H150.5Z" fill="#409fbc"/>
<rect x="135" y="630" width="90" height="70" fill="#4aa5c0"/>
<path d="M139.0 630.2C134.8 630.2 133.5 629.9 131.0 630.2C128.5 630.6 126.0 631.2 123.9 632.3C121.8 633.4 119.8 635.2 118.5 637.0C117.2 638.8 116.8 640.3 116.0 642.8C115.2 645.3 114.5 648.5 114.0 652.0C113.5 655.5 113.3 659.6 113.2 663.9C113.1 668.2 113.0 673.6 113.2 678.0C113.4 682.4 113.8 686.9 114.2 690.2C114.6 693.5 114.9 695.6 115.5 698.0C116.1 700.4 116.7 702.5 117.8 704.3C118.9 706.1 120.4 707.8 122.0 709.0C123.6 710.2 125.6 711.1 127.4 711.5C129.2 711.9 131.2 711.8 133.0 711.5C134.8 711.2 136.6 710.4 137.9 709.6C139.2 708.8 140.0 707.4 141.0 706.5C142.0 705.6 143.0 704.6 144.1 704.0C145.2 703.4 146.4 702.9 147.5 702.8C148.6 702.7 149.6 702.8 150.5 703.5C151.4 704.2 151.9 707.6 152.8 707.0C153.7 706.4 155.1 704.5 156.0 700.0C156.9 695.5 157.7 688.3 158.0 680.0C158.3 671.7 158.3 658.3 158.0 650.0C157.7 641.7 159.2 633.5 156.0 630.2C152.8 626.9 143.2 630.2 139.0 630.2Z" fill="url(#lobeL)"/>
<path d="M200.0 630.0C201.8 626.5 206.2 629.0 209.0 628.8C211.8 628.6 214.5 628.6 217.0 628.8C219.5 629.0 221.9 629.4 224.0 630.0C226.1 630.6 227.7 631.4 229.3 632.5C230.9 633.6 232.3 635.1 233.5 636.5C234.7 637.9 235.3 638.9 236.3 641.1C237.3 643.4 238.6 647.1 239.5 650.0C240.4 652.9 241.0 655.3 241.7 658.6C242.4 661.9 243.1 666.2 243.5 670.0C243.9 673.8 244.2 677.7 244.3 681.5C244.4 685.3 244.4 689.2 244.2 693.0C244.0 696.8 243.8 701.3 243.3 704.3C242.8 707.3 241.9 709.1 241.0 711.0C240.1 712.9 239.2 714.5 238.0 715.7C236.8 716.9 235.4 717.8 234.0 718.2C232.6 718.7 230.9 718.9 229.3 718.4C227.7 717.9 226.0 716.7 224.5 715.5C223.0 714.3 221.8 712.7 220.5 711.3C219.2 709.9 218.2 708.2 217.0 707.0C215.8 705.8 214.8 704.9 213.5 704.3C212.2 703.7 210.7 703.3 209.5 703.3C208.3 703.3 207.4 703.5 206.4 704.3C205.4 705.1 204.6 708.7 203.5 708.0C202.4 707.3 200.9 704.7 200.0 700.0C199.1 695.3 198.3 688.3 198.0 680.0C197.7 671.7 197.7 658.3 198.0 650.0C198.3 641.7 198.2 633.5 200.0 630.0Z" fill="url(#lobeR)"/>
<path d="M161.0 630.0C161.2 632.5 161.7 640.8 162.0 645.0C162.3 649.2 163.4 651.8 162.8 655.0C162.2 658.2 159.7 661.0 158.5 664.0C157.3 667.0 156.3 669.7 155.8 672.7C155.3 675.7 155.3 679.1 155.6 682.0C155.8 684.9 156.3 687.9 157.3 690.2C158.3 692.5 159.8 694.5 161.5 696.0C163.2 697.5 166.7 698.0 167.8 699.5C168.9 701.0 164.8 704.1 168.0 705.0C171.2 705.9 183.6 705.9 186.8 705.0C190.0 704.1 186.0 701.0 187.1 699.5C188.2 698.0 191.8 697.5 193.5 696.0C195.2 694.5 196.6 692.5 197.6 690.2C198.6 687.9 199.1 684.9 199.4 682.0C199.7 679.1 199.7 675.7 199.2 672.7C198.7 669.7 197.7 667.0 196.5 664.0C195.3 661.0 192.9 658.2 192.2 655.0C191.5 651.8 192.3 649.2 192.4 645.0C192.5 640.8 192.6 632.5 192.6 630.0Z" fill="#3896b6"/>
<path d="M168 733H186.8V748L181 740.5H175L168 748Z" fill="#3f9fc0"/>
<rect x="168" y="704" width="18.8" height="29" fill="#4450a2"/>
<rect x="169" y="719" width="16.8" height="13" fill="#384392" opacity="0.7"/>
<path d="M166 586C172 584 184 584 190 586L192 632H164Z" fill="#1f8d52"/>
<ellipse cx="155.6" cy="609.3" rx="17.6" ry="25.4" fill="url(#grn)" transform="rotate(-4 155.6 609.3)"/>
<ellipse cx="199.8" cy="608.8" rx="17.2" ry="25.9" fill="url(#grn)" transform="rotate(3 199.8 608.8)"/>
<circle cx="176.1" cy="670.1" r="0.8" fill="#1d3d4d"/>
<circle cx="195.0" cy="663.7" r="0.8" fill="#1d3d4d"/>
<circle cx="178.3" cy="671.9" r="0.8" fill="#1d3d4d"/>
<circle cx="165.4" cy="666.8" r="0.8" fill="#1d3d4d"/>
<circle cx="183.2" cy="685.9" r="0.8" fill="#1d3d4d"/>
<circle cx="161.8" cy="652.6" r="0.8" fill="#1d3d4d"/>
<circle cx="161.6" cy="687.1" r="0.8" fill="#1d3d4d"/>
<circle cx="185.7" cy="634.8" r="0.8" fill="#1d3d4d"/>
<circle cx="197.3" cy="697.6" r="0.8" fill="#1d3d4d"/>
<circle cx="184.2" cy="673.9" r="0.8" fill="#1d3d4d"/>
<circle cx="164.3" cy="633.0" r="0.8" fill="#1d3d4d"/>
<circle cx="179.1" cy="636.0" r="0.8" fill="#1d3d4d"/>
<circle cx="165.6" cy="648.5" r="0.8" fill="#1d3d4d"/>
<circle cx="159.2" cy="663.5" r="0.8" fill="#1d3d4d"/>
<circle cx="175.6" cy="689.3" r="0.8" fill="#1d3d4d"/>
<circle cx="178.8" cy="675.5" r="0.8" fill="#1d3d4d"/>
<circle cx="178.0" cy="677.0" r="0.8" fill="#1d3d4d"/>
<circle cx="176.3" cy="650.9" r="0.8" fill="#1d3d4d"/>
<circle cx="197.9" cy="699.7" r="0.8" fill="#1d3d4d"/>
<circle cx="191.6" cy="680.1" r="0.8" fill="#1d3d4d"/>
<circle cx="170.6" cy="647.6" r="0.8" fill="#1d3d4d"/>
<circle cx="169.6" cy="636.8" r="0.8" fill="#1d3d4d"/>
<circle cx="188.7" cy="659.2" r="0.8" fill="#1d3d4d"/>
<circle cx="191.9" cy="658.3" r="0.8" fill="#1d3d4d"/>
<circle cx="196.3" cy="689.6" r="0.8" fill="#1d3d4d"/>
<circle cx="158.0" cy="646.3" r="0.8" fill="#1d3d4d"/>
<circle cx="194.4" cy="664.0" r="0.8" fill="#1d3d4d"/>
<circle cx="197.2" cy="659.0" r="0.8" fill="#1d3d4d"/>
<circle cx="160.9" cy="674.8" r="0.8" fill="#1d3d4d"/>
<circle cx="189.1" cy="650.3" r="0.8" fill="#1d3d4d"/>
<circle cx="161.5" cy="654.6" r="0.8" fill="#1d3d4d"/>
<circle cx="196.6" cy="683.5" r="0.8" fill="#1d3d4d"/>
<circle cx="162.7" cy="648.8" r="0.8" fill="#1d3d4d"/>
<circle cx="162.0" cy="636.1" r="0.8" fill="#1d3d4d"/>
<circle cx="168" cy="585" r="0.55" fill="#2a4a3a"/>
<circle cx="172" cy="592" r="0.55" fill="#2a4a3a"/>
<circle cx="170" cy="600" r="0.55" fill="#2a4a3a"/>
<circle cx="168" cy="612" r="0.55" fill="#2a4a3a"/>
<circle cx="171" cy="622" r="0.55" fill="#2a4a3a"/>
<circle cx="183" cy="571" r="0.55" fill="#2a4a3a"/>
<circle cx="183" cy="577" r="0.55" fill="#2a4a3a"/>
<circle cx="170" cy="756" r="0.55" fill="#2a4a3a"/>
<circle cx="167" cy="761" r="0.55" fill="#2a4a3a"/>
<circle cx="175" cy="764" r="0.55" fill="#2a4a3a"/>
<circle cx="172" cy="770" r="0.55" fill="#2a4a3a"/>
<line x1="171.3" y1="566.0" x2="166.2" y2="569.5" stroke="#e2504a" stroke-width="1.5"/>
<line x1="174.9" y1="571.1" x2="169.2" y2="573.6" stroke="#f0d24a" stroke-width="1.5"/>
<line x1="177.4" y1="577.1" x2="171.5" y2="578.7" stroke="#58b45c" stroke-width="1.5"/>
<line x1="179.1" y1="583.1" x2="173.0" y2="584.2" stroke="#5b8fe0" stroke-width="1.5"/>
<line x1="180.2" y1="589.4" x2="174.0" y2="589.8" stroke="#e2504a" stroke-width="1.5"/>
<line x1="180.7" y1="595.9" x2="174.5" y2="596.1" stroke="#58b45c" stroke-width="1.5"/>
<line x1="180.9" y1="602.7" x2="174.7" y2="602.8" stroke="#f0d24a" stroke-width="1.5"/>
<line x1="181.0" y1="609.2" x2="174.8" y2="609.2" stroke="#e2504a" stroke-width="1.5"/>
<line x1="181.1" y1="615.9" x2="174.9" y2="615.7" stroke="#e2504a" stroke-width="1.5"/>
<line x1="180.8" y1="622.6" x2="174.8" y2="621.4" stroke="#f0d24a" stroke-width="1.5"/>
<line x1="179.6" y1="629.0" x2="173.4" y2="628.7" stroke="#58b45c" stroke-width="1.5"/>
<line x1="179.2" y1="635.5" x2="173.0" y2="635.6" stroke="#5b8fe0" stroke-width="1.5"/>
<line x1="179.3" y1="642.0" x2="173.1" y2="642.2" stroke="#e2504a" stroke-width="1.5"/>
<line x1="179.5" y1="648.7" x2="173.3" y2="649.3" stroke="#58b45c" stroke-width="1.5"/>
<line x1="180.1" y1="655.1" x2="174.2" y2="656.9" stroke="#f0d24a" stroke-width="1.5"/>
<line x1="181.9" y1="661.1" x2="176.1" y2="663.1" stroke="#e2504a" stroke-width="1.5"/>
<line x1="184.1" y1="667.3" x2="178.0" y2="668.6" stroke="#e2504a" stroke-width="1.5"/>
<line x1="185.5" y1="673.8" x2="179.3" y2="674.0" stroke="#f0d24a" stroke-width="1.5"/>
<line x1="185.8" y1="680.6" x2="179.6" y2="680.2" stroke="#58b45c" stroke-width="1.5"/>
<line x1="185.4" y1="686.9" x2="179.3" y2="685.9" stroke="#5b8fe0" stroke-width="1.5"/>
<line x1="184.5" y1="693.2" x2="178.4" y2="691.8" stroke="#e2504a" stroke-width="1.5"/>
<line x1="183.0" y1="699.4" x2="177.2" y2="697.4" stroke="#58b45c" stroke-width="1.5"/>
<line x1="180.9" y1="705.6" x2="175.0" y2="703.9" stroke="#f0d24a" stroke-width="1.5"/>
<line x1="179.2" y1="711.6" x2="173.1" y2="710.6" stroke="#e2504a" stroke-width="1.5"/>
<line x1="178.2" y1="717.8" x2="172.0" y2="717.7" stroke="#e2504a" stroke-width="1.5"/>
<line x1="178.1" y1="724.5" x2="171.9" y2="724.8" stroke="#f0d24a" stroke-width="1.5"/>
<line x1="178.5" y1="731.3" x2="172.3" y2="732.1" stroke="#58b45c" stroke-width="1.5"/>
<line x1="179.3" y1="738.1" x2="173.2" y2="739.1" stroke="#5b8fe0" stroke-width="1.5"/>
<line x1="180.4" y1="744.4" x2="174.4" y2="745.9" stroke="#e2504a" stroke-width="1.5"/>
<line x1="181.9" y1="750.6" x2="175.9" y2="752.0" stroke="#58b45c" stroke-width="1.5"/>
<path d="M171.3 566.0C171.8 566.8 173.6 569.0 174.5 570.5C175.4 572.0 175.9 573.0 176.6 574.8C177.3 576.5 178.0 578.6 178.6 581.0C179.2 583.4 179.7 585.7 180.1 588.9C180.5 592.1 180.7 594.7 180.8 600.0C181.0 605.3 181.2 615.4 181.0 620.5C180.8 625.6 179.7 626.9 179.4 630.5C179.1 634.1 179.2 637.9 179.3 642.0C179.4 646.1 179.5 651.4 180.1 655.1C180.7 658.8 182.1 661.1 183.0 664.0C183.9 666.9 185.0 669.2 185.4 672.7C185.8 676.2 185.9 680.9 185.6 685.0C185.3 689.1 184.4 693.6 183.6 697.3C182.8 701.0 181.4 703.8 180.5 707.0C179.6 710.2 178.7 712.8 178.3 716.6C178.0 720.4 178.1 725.6 178.4 730.0C178.7 734.4 179.5 739.4 180.1 742.9C180.7 746.4 181.4 748.4 182.0 751.0C182.6 753.6 183.5 757.4 183.8 758.7" fill="none" stroke="#5e5b59" stroke-width="3.2" stroke-linecap="round"/>
<line x1="100.9" y1="589.5" x2="96.9" y2="584.5" stroke="#dfe6f5" stroke-width="1.5"/>
<line x1="105.4" y1="585.9" x2="102.0" y2="580.5" stroke="#f0e05a" stroke-width="1.5"/>
<line x1="110.2" y1="582.9" x2="107.1" y2="577.3" stroke="#7fa0e8" stroke-width="1.5"/>
<line x1="115.2" y1="580.1" x2="113.0" y2="574.1" stroke="#58b45c" stroke-width="1.5"/>
<line x1="120.5" y1="578.1" x2="118.8" y2="572.0" stroke="#e2504a" stroke-width="1.5"/>
<line x1="125.9" y1="576.7" x2="125.1" y2="570.4" stroke="#58b45c" stroke-width="1.5"/>
<line x1="131.4" y1="576.0" x2="131.6" y2="569.6" stroke="#f0d24a" stroke-width="1.5"/>
<line x1="137.1" y1="576.1" x2="138.2" y2="569.8" stroke="#e8704a" stroke-width="1.5"/>
<line x1="142.7" y1="577.1" x2="144.3" y2="570.9" stroke="#6aa6e8" stroke-width="1.5"/>
<line x1="148.1" y1="578.5" x2="149.7" y2="572.3" stroke="#58b45c" stroke-width="1.5"/>
<line x1="153.7" y1="579.9" x2="154.5" y2="573.5" stroke="#6aa6e8" stroke-width="1.5"/>
<line x1="159.4" y1="580.5" x2="158.2" y2="574.2" stroke="#e2504a" stroke-width="1.5"/>
<path d="M100.9 589.5C101.8 588.8 104.2 586.8 106.0 585.5C107.8 584.2 110.1 582.9 111.9 581.9C113.7 580.9 115.2 580.0 117.0 579.3C118.8 578.6 121.0 578.0 122.8 577.5C124.6 577.0 126.2 576.6 128.0 576.3C129.8 576.0 131.9 575.9 133.7 575.9C135.5 575.9 137.2 576.1 139.0 576.4C140.8 576.7 142.9 577.1 144.7 577.5C146.5 577.9 148.2 578.5 150.0 579.0C151.8 579.5 153.9 580.0 155.6 580.2C157.3 580.5 158.5 580.6 160.0 580.5C161.5 580.4 163.1 580.2 164.4 579.7C165.7 579.2 166.9 578.4 168.0 577.5C169.1 576.6 169.9 575.3 170.9 574.2C171.9 573.1 172.9 572.0 174.0 571.0C175.1 570.0 176.0 569.0 177.5 568.2C179.0 567.4 181.2 566.6 183.0 566.0C184.8 565.4 186.9 565.1 188.4 564.4C189.9 563.7 190.9 562.9 192.0 562.0C193.1 561.1 194.2 559.8 195.0 558.9C195.8 558.0 196.3 557.3 196.8 556.6C197.3 555.9 197.8 554.9 198.0 554.5" fill="none" stroke="#5e5b59" stroke-width="3.3" stroke-linecap="round"/>
<path d="M99 591.5l6.5-5" stroke="#fff" stroke-width="5" opacity="0.55" filter="url(#b1)"/>
<line x1="172.5" y1="562.5" x2="178.5" y2="568.5" stroke="#58b45c" stroke-width="1.4"/>
<line x1="176.5" y1="557.5" x2="183.5" y2="565.5" stroke="#e2504a" stroke-width="1.4"/>
<line x1="181.5" y1="554" x2="187.5" y2="564" stroke="#58b45c" stroke-width="1.4"/>
<line x1="186.5" y1="553.3" x2="191.5" y2="561.5" stroke="#f0d24a" stroke-width="1.4"/>
<line x1="191" y1="555" x2="194" y2="559.5" stroke="#f0d24a" stroke-width="1.4"/>
<path d="M171.3 566.0C171.0 565.5 169.7 564.2 169.6 563.2C169.5 562.2 170.3 561.0 170.9 560.0C171.5 559.0 172.5 557.9 173.4 557.0C174.3 556.1 175.3 555.2 176.4 554.5C177.5 553.8 178.7 553.2 180.0 552.8C181.3 552.3 182.8 551.9 184.1 551.8C185.4 551.7 186.7 551.9 188.0 552.2C189.3 552.5 190.6 552.9 191.7 553.4C192.8 553.9 193.7 554.4 194.5 555.0C195.3 555.6 196.2 556.6 196.6 556.9" fill="none" stroke="#5e5b59" stroke-width="2.8" stroke-linecap="round"/>
<line x1="195" y1="548.5" x2="207.5" y2="552" stroke="#6aa6e8" stroke-width="1.2"/>
<line x1="194" y1="544.5" x2="208.5" y2="548" stroke="#f0e05a" stroke-width="1.2"/>
<line x1="194.5" y1="540.5" x2="208.5" y2="543.5" stroke="#6aa6e8" stroke-width="1.2"/>
<line x1="196.5" y1="537.5" x2="206.5" y2="539" stroke="#f0e05a" stroke-width="1.2"/>
<ellipse cx="201.3" cy="545.2" rx="7.6" ry="10.8" transform="rotate(12 201.3 545.2)" fill="none" stroke="#5e5b59" stroke-width="2.6"/>
<defs><radialGradient id="fade" cx="0.5" cy="0.35" r="0.6"><stop offset="0" stop-color="#fff" stop-opacity="0.95"/><stop offset="0.6" stop-color="#fff" stop-opacity="0.6"/><stop offset="1" stop-color="#fff" stop-opacity="0"/></radialGradient></defs>
<ellipse cx="201" cy="540.5" rx="10.5" ry="10" fill="url(#fade)"/>
<path d="M203.8 728.5L206 731.5L208 734L209.5 728L211.5 725.5L214 728L217 727L220 729L223 728L226 730L229 728.5L231 732L233 735L235.5 730L238 727.5L240 729.5L242 726L244 729.5L246.5 723.5L248.5 728L250.5 731.5L253 729L256 730L259 728.5L262 730L264.5 727L266 724.5L268 730.5L270 731.5L271.5 725L273 723" fill="none" stroke="#111" stroke-width="1.8" stroke-linejoin="round"/>
<line x1="25.6" y1="692" x2="25.6" y2="704" stroke="#f3b7a6" stroke-width="0.9"/>
<path d="M477.20 566.04A53.5 54.7 0 0 1 581.20 566.04" fill="none" stroke="#fbe3a8" stroke-width="3.8" stroke-dasharray="none"/>
<path d="M477.20 566.04A53.5 54.7 0 0 1 581.20 566.04" fill="none" stroke="#f4ba42" stroke-width="4.1" stroke-dasharray="1.15 1.05"/>
<path d="M581.20 566.04A53.5 54.7 0 0 1 581.27 591.48" fill="none" stroke="#cfeaf7" stroke-width="3.8" stroke-dasharray="none"/>
<path d="M581.20 566.04A53.5 54.7 0 0 1 581.27 591.48" fill="none" stroke="#74c4ea" stroke-width="4.1" stroke-dasharray="1.15 1.05"/>
<path d="M477.13 591.48A53.5 54.7 0 0 1 477.20 566.04" fill="none" stroke="#cfeaf7" stroke-width="3.8" stroke-dasharray="none"/>
<path d="M477.13 591.48A53.5 54.7 0 0 1 477.20 566.04" fill="none" stroke="#74c4ea" stroke-width="4.1" stroke-dasharray="1.15 1.05"/>
<path d="M581.27 591.48A53.5 54.7 0 0 1 477.13 591.48" fill="none" stroke="#e9daf1" stroke-width="3.8" stroke-dasharray="none"/>
<path d="M581.27 591.48A53.5 54.7 0 0 1 477.13 591.48" fill="none" stroke="#c9a3dd" stroke-width="4.1" stroke-dasharray="1.15 1.05"/>
<path d="M532 624.2l3.2-1.6 3 1.4 1.6 3.4-1.4 2.6 1.2 3-2 3.4-3.4 1.2-3-1.6-1.6-3.6 0.6-3.2-0.8-2.6z" fill="#b7b5b8" stroke="#a5a3a6" stroke-width="0.5"/>
<path d="M533 625.6l2.6-0.8 2 1.8-0.2 2.6-2.4 1.2-2.2-1.6z" fill="#d6d4d7"/>
<path d="M531.6 632.2l2.4-1 2.6 1.2 0.4 2.6-2.2 1.4-2.6-1.2z" fill="#c9c7ca"/>
<path d="M552.2 627.4C551.9 627.8 550.9 629.0 550.3 629.8C549.7 630.6 549.1 631.3 548.4 632.4C547.7 633.5 546.8 635.1 546.0 636.5C545.2 637.9 544.5 639.2 543.6 640.6C542.7 642.0 541.6 643.5 540.5 644.8C539.4 646.1 538.2 647.3 536.8 648.3C535.4 649.3 533.8 650.2 532.0 650.8C530.2 651.4 528.1 651.8 526.0 652.0C523.9 652.2 520.6 652.2 519.5 652.3" fill="none" stroke="#a585c4" stroke-width="1.7" stroke-dasharray="1.5 1.7"/>
<line x1="453.0" y1="652.3" x2="519.5" y2="652.3" stroke="#c9a3dd" stroke-width="2.6" opacity="0.28"/>
<line x1="453.0" y1="652.3" x2="519.5" y2="652.3" stroke="#c9a3dd" stroke-width="2.4" stroke-dasharray="1.5 1.3"/>
<line x1="453.0" y1="666.1" x2="602.3" y2="666.1" stroke="#f4ba42" stroke-width="2.6" opacity="0.28"/>
<line x1="453.0" y1="666.1" x2="602.3" y2="666.1" stroke="#f4ba42" stroke-width="2.4" stroke-dasharray="1.5 1.3"/>
<line x1="453.0" y1="681.0" x2="602.3" y2="681.0" stroke="#c9a3dd" stroke-width="2.6" opacity="0.28"/>
<line x1="453.0" y1="681.0" x2="602.3" y2="681.0" stroke="#c9a3dd" stroke-width="2.4" stroke-dasharray="1.5 1.3"/>
<line x1="453.0" y1="694.1" x2="602.3" y2="694.1" stroke="#f4ba42" stroke-width="2.6" opacity="0.28"/>
<line x1="453.0" y1="694.1" x2="602.3" y2="694.1" stroke="#f4ba42" stroke-width="2.4" stroke-dasharray="1.5 1.3"/>
<line x1="453.0" y1="709.1" x2="602.3" y2="709.1" stroke="#c9a3dd" stroke-width="2.6" opacity="0.28"/>
<line x1="453.0" y1="709.1" x2="602.3" y2="709.1" stroke="#c9a3dd" stroke-width="2.4" stroke-dasharray="1.5 1.3"/>
<line x1="453.0" y1="722.5" x2="602.3" y2="722.5" stroke="#f4ba42" stroke-width="2.6" opacity="0.28"/>
<line x1="453.0" y1="722.5" x2="602.3" y2="722.5" stroke="#f4ba42" stroke-width="2.4" stroke-dasharray="1.5 1.3"/>
<line x1="453.0" y1="737.2" x2="602.3" y2="737.2" stroke="#c9a3dd" stroke-width="2.6" opacity="0.28"/>
<line x1="453.0" y1="737.2" x2="602.3" y2="737.2" stroke="#c9a3dd" stroke-width="2.4" stroke-dasharray="1.5 1.3"/>
<line x1="453.0" y1="750.6" x2="602.3" y2="750.6" stroke="#f4ba42" stroke-width="2.6" opacity="0.28"/>
<line x1="453.0" y1="750.6" x2="602.3" y2="750.6" stroke="#f4ba42" stroke-width="2.4" stroke-dasharray="1.5 1.3"/>
<line x1="453.0" y1="766.0" x2="602.3" y2="766.0" stroke="#c9a3dd" stroke-width="2.6" opacity="0.28"/>
<line x1="453.0" y1="766.0" x2="602.3" y2="766.0" stroke="#c9a3dd" stroke-width="2.4" stroke-dasharray="1.5 1.3"/>
<path d="M453.0 652.3H445.5A6.9 6.9 0 0 0 445.5 666.1H453.0" fill="none" stroke="#74c4ea" stroke-width="2.3" stroke-dasharray="1.5 1.1"/>
<path d="M453.0 681.0H445.5A6.6 6.6 0 0 0 445.5 694.1H453.0" fill="none" stroke="#74c4ea" stroke-width="2.3" stroke-dasharray="1.5 1.1"/>
<path d="M453.0 709.1H445.5A6.7 6.7 0 0 0 445.5 722.5H453.0" fill="none" stroke="#74c4ea" stroke-width="2.3" stroke-dasharray="1.5 1.1"/>
<path d="M453.0 737.2H445.5A6.7 6.7 0 0 0 445.5 750.6H453.0" fill="none" stroke="#74c4ea" stroke-width="2.3" stroke-dasharray="1.5 1.1"/>
<path d="M602.3 666.1H609.5999999999999A7.4 7.4 0 0 1 609.5999999999999 681.0H602.3" fill="none" stroke="#74c4ea" stroke-width="2.3" stroke-dasharray="1.5 1.1"/>
<path d="M602.3 694.1H609.5999999999999A7.5 7.5 0 0 1 609.5999999999999 709.1H602.3" fill="none" stroke="#74c4ea" stroke-width="2.3" stroke-dasharray="1.5 1.1"/>
<path d="M602.3 722.5H609.5999999999999A7.4 7.4 0 0 1 609.5999999999999 737.2H602.3" fill="none" stroke="#74c4ea" stroke-width="2.3" stroke-dasharray="1.5 1.1"/>
<path d="M602.3 750.6H609.5999999999999A7.7 7.7 0 0 1 609.5999999999999 766.0H602.3" fill="none" stroke="#74c4ea" stroke-width="2.3" stroke-dasharray="1.5 1.1"/>
<line x1="453.0" y1="766.0" x2="439.8" y2="766.0" stroke="#74c4ea" stroke-width="2.3" stroke-dasharray="1.5 1.1"/>
<rect x="474.2" y="665.1" width="1.7" height="2.0" fill="#d9473f"/>
<rect x="476.2" y="665.1" width="1.7" height="2.0" fill="#d9473f"/>
<rect x="482.8" y="665.1" width="1.7" height="2.0" fill="#d9473f"/>
<rect x="484.6" y="665.1" width="1.7" height="2.0" fill="#d9473f"/>
<rect x="516.6" y="665.1" width="1.7" height="2.0" fill="#d9473f"/>
<rect x="520.3" y="665.1" width="1.7" height="2.0" fill="#d9473f"/>
<rect x="535.9" y="665.1" width="1.7" height="2.0" fill="#d9473f"/>
<rect x="547.7" y="665.1" width="1.7" height="2.0" fill="#d9473f"/>
<rect x="560.0" y="665.1" width="1.7" height="2.0" fill="#d9473f"/>
<rect x="458.1" y="680.0" width="1.7" height="2.0" fill="#d9473f"/>
<rect x="460.7" y="680.0" width="1.7" height="2.0" fill="#d9473f"/>
<rect x="484.1" y="680.0" width="1.7" height="2.0" fill="#d9473f"/>
<rect x="540.6" y="680.0" width="1.7" height="2.0" fill="#d9473f"/>
<rect x="578.4" y="680.0" width="1.7" height="2.0" fill="#d9473f"/>
<rect x="593.8" y="680.0" width="1.7" height="2.0" fill="#d9473f"/>
<rect x="597.0" y="680.0" width="1.7" height="2.0" fill="#d9473f"/>
<rect x="459.3" y="693.1" width="1.7" height="2.0" fill="#d9473f"/>
<rect x="463.9" y="693.1" width="1.7" height="2.0" fill="#d9473f"/>
<rect x="478.4" y="693.1" width="1.7" height="2.0" fill="#d9473f"/>
<rect x="519.5" y="693.1" width="1.7" height="2.0" fill="#d9473f"/>
<rect x="543.0" y="693.1" width="1.7" height="2.0" fill="#d9473f"/>
<rect x="573.7" y="693.1" width="1.7" height="2.0" fill="#d9473f"/>
<rect x="468.2" y="708.1" width="1.7" height="2.0" fill="#d9473f"/>
<rect x="470.6" y="708.1" width="1.7" height="2.0" fill="#d9473f"/>
<rect x="491.9" y="708.1" width="1.7" height="2.0" fill="#d9473f"/>
<rect x="509.8" y="708.1" width="1.7" height="2.0" fill="#d9473f"/>
<rect x="521.1" y="708.1" width="1.7" height="2.0" fill="#d9473f"/>
<rect x="525.4" y="708.1" width="1.7" height="2.0" fill="#d9473f"/>
<rect x="539.2" y="708.1" width="1.7" height="2.0" fill="#d9473f"/>
<rect x="541.8" y="708.1" width="1.7" height="2.0" fill="#d9473f"/>
<rect x="591.6" y="708.1" width="1.7" height="2.0" fill="#d9473f"/>
<rect x="479.5" y="721.5" width="1.7" height="2.0" fill="#d9473f"/>
<rect x="483.5" y="721.5" width="1.7" height="2.0" fill="#d9473f"/>
<rect x="484.4" y="721.5" width="1.7" height="2.0" fill="#d9473f"/>
<rect x="492.8" y="721.5" width="1.7" height="2.0" fill="#d9473f"/>
<rect x="571.9" y="721.5" width="1.7" height="2.0" fill="#d9473f"/>
<rect x="578.7" y="721.5" width="1.7" height="2.0" fill="#d9473f"/>
<rect x="584.5" y="721.5" width="1.7" height="2.0" fill="#d9473f"/>
<rect x="464.6" y="736.2" width="1.7" height="2.0" fill="#d9473f"/>
<rect x="468.9" y="736.2" width="1.7" height="2.0" fill="#d9473f"/>
<rect x="473.2" y="736.2" width="1.7" height="2.0" fill="#d9473f"/>
<rect x="512.1" y="736.2" width="1.7" height="2.0" fill="#d9473f"/>
<rect x="525.2" y="736.2" width="1.7" height="2.0" fill="#d9473f"/>
<rect x="529.4" y="736.2" width="1.7" height="2.0" fill="#d9473f"/>
<rect x="553.7" y="736.2" width="1.7" height="2.0" fill="#d9473f"/>
<rect x="482.4" y="749.6" width="1.7" height="2.0" fill="#d9473f"/>
<rect x="491.2" y="749.6" width="1.7" height="2.0" fill="#d9473f"/>
<rect x="493.8" y="749.6" width="1.7" height="2.0" fill="#d9473f"/>
<rect x="498.9" y="749.6" width="1.7" height="2.0" fill="#d9473f"/>
<rect x="541.1" y="749.6" width="1.7" height="2.0" fill="#d9473f"/>
<rect x="556.1" y="749.6" width="1.7" height="2.0" fill="#d9473f"/>
<rect x="558.3" y="749.6" width="1.7" height="2.0" fill="#d9473f"/>
<rect x="572.7" y="749.6" width="1.7" height="2.0" fill="#d9473f"/>
<rect x="468.3" y="765.0" width="1.7" height="2.0" fill="#d9473f"/>
<rect x="475.6" y="765.0" width="1.7" height="2.0" fill="#d9473f"/>
<rect x="487.6" y="765.0" width="1.7" height="2.0" fill="#d9473f"/>
<rect x="524.8" y="765.0" width="1.7" height="2.0" fill="#d9473f"/>
<rect x="543.8" y="765.0" width="1.7" height="2.0" fill="#d9473f"/>
<rect x="549.0" y="765.0" width="1.7" height="2.0" fill="#d9473f"/>
<path d="M453.0 649.6V773M602.3 649.6V773" fill="none" stroke="#8a8a8a" stroke-width="1" stroke-dasharray="3.2 2.2"/>
<path d="M816.3 61.3V231H1272.4" stroke="#333" stroke-width="1.1" fill="none"/>
<line x1="813" y1="224.5" x2="816.3" y2="224.5" stroke="#333" stroke-width="1.1"/>
<text x="794.77" y="234.70" font-size="29">0</text>
<line x1="813" y1="182.5" x2="816.3" y2="182.5" stroke="#333" stroke-width="1.1"/>
<text x="778.67" y="192.70" font-size="29">25</text>
<line x1="813" y1="140.4" x2="816.3" y2="140.4" stroke="#333" stroke-width="1.1"/>
<text x="778.67" y="150.60" font-size="29">50</text>
<line x1="813" y1="98.3" x2="816.3" y2="98.3" stroke="#333" stroke-width="1.1"/>
<text x="778.67" y="108.50" font-size="29">75</text>
<line x1="940.5" y1="231" x2="940.5" y2="234.3" stroke="#333" stroke-width="1.1"/>
<line x1="1148.8" y1="231" x2="1148.8" y2="234.3" stroke="#333" stroke-width="1.1"/>
<text transform="translate(773.60,232.96) rotate(-90)" font-size="30.70" fill="#000">Phred score</text>
<text x="866.32" y="258.70" font-size="30.60" fill="#000" >ScISOr-Seq</text>
<text x="1057.23" y="258.70" font-size="30.40" fill="#000" >SI-ISO-Seq</text>
<text x="987.74" y="290.00" font-size="30.70" fill="#000" >Dataset</text>
<text x="877.62" y="38.30" font-size="31.00" fill="#000" >Platform</text>
<rect x="1008.3" y="13" width="22" height="22.4" fill="#efefef"/>
<line x1="1019.3" y1="15" x2="1019.3" y2="34" stroke="#333" stroke-width="0.9"/>
<rect x="1010.5999999999999" y="19" width="17.6" height="11.6" fill="#2b8ce6" stroke="#333" stroke-width="0.9"/>
<line x1="1010.5999999999999" y1="24.8" x2="1028.2" y2="24.8" stroke="#333" stroke-width="1"/>
<rect x="1112.2" y="13" width="22" height="22.4" fill="#efefef"/>
<line x1="1123.2" y1="15" x2="1123.2" y2="34" stroke="#333" stroke-width="0.9"/>
<rect x="1114.5" y="19" width="17.6" height="11.6" fill="#f0a41f" stroke="#333" stroke-width="0.9"/>
<line x1="1114.5" y1="24.8" x2="1132.1000000000001" y2="24.8" stroke="#333" stroke-width="1"/>
<text x="1045.50" y="33.90" font-size="24.40" fill="#000" >ONT</text>
<text x="1148.53" y="33.90" font-size="24.60" fill="#000" >PacBio</text>
<line x1="901.9" y1="199.9" x2="901.9" y2="222.9" stroke="#333" stroke-width="0.9"/>
<rect x="866.6" y="206.2" width="70.6" height="8.8" fill="#2b8ce6" stroke="#333" stroke-width="0.9"/>
<line x1="866.6" y1="207.6" x2="937.2" y2="207.6" stroke="#333" stroke-width="2.4"/>
<line x1="979.8" y1="68.6" x2="979.8" y2="81.4" stroke="#333" stroke-width="0.9"/>
<rect x="944.2" y="69.6" width="71.1" height="5.9" fill="#f0a41f" stroke="#333" stroke-width="0.9"/>
<line x1="944.2" y1="70.8" x2="1015.3" y2="70.8" stroke="#333" stroke-width="0.8"/>
<line x1="1109.4" y1="181.3" x2="1109.4" y2="209.5" stroke="#333" stroke-width="0.9"/>
<rect x="1074" y="192.7" width="70.8" height="9.1" fill="#2b8ce6" stroke="#333" stroke-width="0.9"/>
<line x1="1074" y1="196.4" x2="1144.8" y2="196.4" stroke="#333" stroke-width="1.3"/>
<line x1="1187.5" y1="68.6" x2="1187.5" y2="78" stroke="#333" stroke-width="0.9"/>
<rect x="1152" y="69.6" width="71.1" height="4.4" fill="#f0a41f" stroke="#333" stroke-width="0.9"/>
<line x1="1152" y1="70.8" x2="1223.1" y2="70.8" stroke="#333" stroke-width="0.7"/>
<path d="M811.9 381.4V530.9H1257" stroke="#000" stroke-width="1.2" fill="none"/>
<line x1="808.6" y1="523.3" x2="811.9" y2="523.3" stroke="#000" stroke-width="1.1"/>
<text x="787.91" y="533.90" font-size="29.5">0</text>
<line x1="808.6" y1="484.6" x2="811.9" y2="484.6" stroke="#000" stroke-width="1.1"/>
<text x="771.53" y="495.20" font-size="29.5">20</text>
<line x1="808.6" y1="445.9" x2="811.9" y2="445.9" stroke="#000" stroke-width="1.1"/>
<text x="771.53" y="456.50" font-size="29.5">40</text>
<line x1="808.6" y1="407.2" x2="811.9" y2="407.2" stroke="#000" stroke-width="1.1"/>
<text x="771.53" y="417.80" font-size="29.5">60</text>
<line x1="832" y1="530.9" x2="832" y2="534.2" stroke="#000" stroke-width="1.1"/>
<text x="815.05" y="558.70" font-size="29.50" fill="#000">80</text>
<line x1="987.4" y1="530.9" x2="987.4" y2="534.2" stroke="#000" stroke-width="1.1"/>
<text x="970.45" y="558.70" font-size="29.50" fill="#000">85</text>
<line x1="1143.3" y1="530.9" x2="1143.3" y2="534.2" stroke="#000" stroke-width="1.1"/>
<text x="1126.35" y="558.70" font-size="29.50" fill="#000">90</text>
<text transform="translate(761.10,528.66) rotate(-90)" font-size="30.70" fill="#000">Reads (%)</text>
<text x="950.54" y="590.00" font-size="30.70" fill="#000" >Phred score</text>
<polygon points="811.8,523.3 811.8,521.9 894.2,521.8 956.4,521.6 1018.6,521.0 1080.8,519.8 1111.9,518.8 1143.0,516.7 1174.1,511.9 1205.2,391.3 1236.3,521.0 1236.3,523.3" fill="#c6edd3"/>
<polygon points="811.8,523.3 811.8,522.1 894.2,522.0 956.4,521.8 1018.6,521.2 1080.8,520.2 1111.9,519.2 1143.0,517.3 1174.1,512.5 1205.2,414.9 1236.3,518.3 1236.3,523.3" fill="#f0e5bb"/>
<polygon points="811.8,523.3 811.8,522.1 814.4,522.1 817.1,522.1 819.7,522.1 822.4,522.1 825.1,522.1 827.7,522.1 830.4,522.1 833.0,522.1 835.7,522.1 838.3,522.1 841.0,522.1 843.6,522.1 846.3,522.1 848.9,522.1 851.6,522.1 854.2,522.1 856.9,522.1 859.5,522.1 862.2,522.1 864.8,522.1 867.5,522.1 870.2,522.1 872.8,522.1 875.5,522.1 878.1,522.1 880.8,522.1 883.4,522.1 886.1,522.1 888.7,522.0 891.4,522.0 894.0,522.0 896.7,522.0 899.3,522.0 902.0,522.0 904.6,522.0 907.3,522.0 910.0,522.0 912.6,522.0 915.3,521.9 917.9,521.9 920.6,521.9 923.2,521.9 925.9,521.9 928.5,521.9 931.2,521.9 933.8,521.9 936.5,521.8 939.1,521.8 941.8,521.8 944.4,521.8 947.1,521.8 949.8,521.8 952.4,521.8 955.1,521.8 957.7,521.7 960.4,521.7 963.0,521.7 965.7,521.7 968.3,521.6 971.0,521.6 973.6,521.6 976.3,521.6 978.9,521.5 981.6,521.5 984.2,521.5 986.9,521.5 989.6,521.4 992.2,521.4 994.9,521.4 997.5,521.4 1000.2,521.3 1002.8,521.3 1005.5,521.3 1008.1,521.3 1010.8,521.2 1013.4,521.2 1016.1,521.2 1018.7,521.2 1021.4,521.1 1024.0,521.1 1026.7,521.0 1029.3,521.0 1032.0,521.0 1034.7,520.9 1037.3,520.9 1040.0,520.8 1042.6,520.8 1045.3,520.8 1047.9,520.7 1050.6,520.7 1053.2,520.6 1055.9,520.6 1058.5,520.6 1061.2,520.5 1063.8,520.5 1066.5,520.4 1069.1,520.4 1071.8,520.3 1074.5,520.3 1077.1,520.3 1079.8,520.2 1082.4,520.2 1085.1,520.1 1087.7,520.0 1090.4,519.9 1093.0,519.8 1095.7,519.7 1098.3,519.7 1101.0,519.6 1103.6,519.5 1106.3,519.4 1108.9,519.3 1111.6,519.2 1114.3,519.1 1116.9,518.9 1119.6,518.8 1122.2,518.6 1124.9,518.4 1127.5,518.3 1130.2,518.1 1132.8,517.9 1135.5,517.8 1138.1,517.6 1140.8,517.4 1143.4,517.2 1146.1,516.8 1148.7,516.4 1151.4,516.0 1154.1,515.6 1156.7,515.2 1159.4,514.8 1162.0,514.3 1164.7,513.9 1167.3,513.5 1170.0,513.1 1172.6,512.7 1175.3,508.8 1177.9,500.5 1180.6,492.1 1183.2,483.8 1185.9,475.5 1188.5,467.2 1191.2,458.9 1193.8,450.5 1196.5,442.2 1199.2,433.9 1201.8,425.6 1204.5,417.3 1207.1,421.3 1209.8,430.1 1212.4,438.9 1215.1,447.7 1217.7,456.6 1220.4,465.4 1223.0,474.2 1225.7,483.0 1228.3,491.8 1231.0,500.6 1233.6,509.9 1236.3,521.0 1236.3,523.3" fill="#cfe3a3"/>
<polyline points="811.8,521.9 894.2,521.8 956.4,521.6 1018.6,521.0 1080.8,519.8 1111.9,518.8 1143.0,516.7 1174.1,511.9 1205.2,391.3 1236.3,521.0" fill="none" stroke="#000" stroke-width="1.5" stroke-linejoin="round"/>
<polyline points="811.8,522.1 894.2,522.0 956.4,521.8 1018.6,521.2 1080.8,520.2 1111.9,519.2 1143.0,517.3 1174.1,512.5 1205.2,414.9 1236.3,518.3" fill="none" stroke="#000" stroke-width="1.5" stroke-linejoin="round"/>
<rect x="804.9" y="315.3" width="21.2" height="21.6" fill="#b9e8c5" stroke="#111" stroke-width="0.9"/>
<rect x="804.9" y="338.2" width="21.2" height="21.4" fill="#efe3b5" stroke="#111" stroke-width="0.9"/>
<text x="840.54" y="335.00" font-size="24.45" fill="#000" >PacBio reads with detected barcodes</text>
<text x="840.54" y="357.30" font-size="24.45" fill="#000" >PacBio reads without detected barcodes</text>
<path d="M811.9 700.2V849.5H1257" stroke="#000" stroke-width="1.2" fill="none"/>
<line x1="808.6" y1="842.5" x2="811.9" y2="842.5" stroke="#000" stroke-width="1.1"/>
<text x="787.91" y="853.10" font-size="29.5">0</text>
<line x1="808.6" y1="808.5" x2="811.9" y2="808.5" stroke="#000" stroke-width="1.1"/>
<text x="787.91" y="819.10" font-size="29.5">5</text>
<line x1="808.6" y1="774.5" x2="811.9" y2="774.5" stroke="#000" stroke-width="1.1"/>
<text x="771.53" y="785.10" font-size="29.5">10</text>
<line x1="808.6" y1="740.6" x2="811.9" y2="740.6" stroke="#000" stroke-width="1.1"/>
<text x="771.53" y="751.20" font-size="29.5">15</text>
<line x1="808.6" y1="706.6" x2="811.9" y2="706.6" stroke="#000" stroke-width="1.1"/>
<text x="771.53" y="717.20" font-size="29.5">20</text>
<line x1="831.6" y1="849.5" x2="831.6" y2="852.8" stroke="#000" stroke-width="1.1"/>
<text x="823.61" y="877.50" font-size="29.50" fill="#000">0</text>
<line x1="966.8" y1="849.5" x2="966.8" y2="852.8" stroke="#000" stroke-width="1.1"/>
<text x="950.11" y="877.50" font-size="29.50" fill="#000">10</text>
<line x1="1101.7" y1="849.5" x2="1101.7" y2="852.8" stroke="#000" stroke-width="1.1"/>
<text x="1085.38" y="877.50" font-size="29.50" fill="#000">20</text>
<line x1="1236.7" y1="849.5" x2="1236.7" y2="852.8" stroke="#000" stroke-width="1.1"/>
<text x="1220.53" y="877.50" font-size="29.50" fill="#000">30</text>
<text transform="translate(761.10,847.46) rotate(-90)" font-size="30.70" fill="#000">Reads (%)</text>
<text x="950.54" y="909.00" font-size="30.70" fill="#000" >Phred score</text>
<polygon points="926.1,842.5 926.1,842.5 939.6,842.5 953.1,842.5 966.6,841.8 980.1,838.4 993.6,834.0 1007.1,828.2 1020.6,820.1 1034.1,809.2 1047.6,796.3 1061.1,778.6 1074.6,758.9 1088.1,742.5 1101.6,738.5 1115.1,751.4 1128.6,784.0 1142.1,816.7 1155.6,836.4 1169.1,841.1 1182.6,842.2 1196.1,842.5 1209.6,842.5 1209.6,842.5" fill="#c7f0e2"/>
<polygon points="926.1,842.5 926.1,842.5 939.6,842.5 953.1,842.5 966.6,831.6 980.1,802.4 993.6,788.1 1007.1,783.0 1020.6,778.9 1034.1,775.2 1047.6,772.5 1061.1,771.1 1074.6,773.8 1088.1,781.3 1101.6,792.5 1115.1,807.8 1128.6,823.1 1142.1,836.2 1155.6,840.6 1169.1,842.0 1182.6,842.5 1196.1,842.5 1209.6,842.5 1209.6,842.5" fill="#e3c6f4"/>
<polygon points="926.1,842.5 926.1,842.5 927.9,842.5 929.6,842.5 931.4,842.5 933.2,842.5 935.0,842.5 936.7,842.5 938.5,842.5 940.3,842.5 942.0,842.5 943.8,842.5 945.6,842.5 947.4,842.5 949.1,842.5 950.9,842.5 952.7,842.5 954.5,842.4 956.2,842.3 958.0,842.3 959.8,842.2 961.5,842.1 963.3,842.0 965.1,841.9 966.9,841.8 968.6,841.3 970.4,840.9 972.2,840.4 973.9,840.0 975.7,839.5 977.5,839.1 979.3,838.6 981.0,838.1 982.8,837.5 984.6,837.0 986.3,836.4 988.1,835.8 989.9,835.2 991.7,834.6 993.4,834.1 995.2,833.3 997.0,832.6 998.7,831.8 1000.5,831.0 1002.3,830.3 1004.1,829.5 1005.8,828.8 1007.6,827.9 1009.4,826.8 1011.2,825.8 1012.9,824.7 1014.7,823.6 1016.5,822.6 1018.2,821.5 1020.0,820.4 1021.8,819.1 1023.6,817.7 1025.3,816.3 1027.1,814.8 1028.9,813.4 1030.6,812.0 1032.4,810.5 1034.2,809.1 1036.0,807.4 1037.7,805.7 1039.5,804.0 1041.3,802.3 1043.0,800.6 1044.8,798.9 1046.6,797.2 1048.4,795.3 1050.1,792.9 1051.9,790.6 1053.7,788.3 1055.4,786.0 1057.2,783.7 1059.0,781.3 1060.8,779.0 1062.5,776.5 1064.3,773.9 1066.1,772.1 1067.8,772.5 1069.6,772.8 1071.4,773.2 1073.2,773.5 1074.9,774.0 1076.7,775.0 1078.5,776.0 1080.3,777.0 1082.0,777.9 1083.8,778.9 1085.6,779.9 1087.3,780.9 1089.1,782.1 1090.9,783.6 1092.7,785.1 1094.4,786.6 1096.2,788.0 1098.0,789.5 1099.7,791.0 1101.5,792.4 1103.3,794.4 1105.1,796.4 1106.8,798.4 1108.6,800.5 1110.4,802.5 1112.1,804.5 1113.9,806.5 1115.7,808.5 1117.5,810.5 1119.2,812.5 1121.0,814.5 1122.8,816.5 1124.5,818.5 1126.3,820.5 1128.1,822.5 1129.9,824.4 1131.6,826.1 1133.4,827.8 1135.2,829.5 1137.0,831.2 1138.7,833.0 1140.5,834.7 1142.3,836.3 1144.0,836.9 1145.8,837.4 1147.6,838.0 1149.4,838.6 1151.1,839.2 1152.9,839.7 1154.7,840.3 1156.4,840.7 1158.2,840.9 1160.0,841.0 1161.8,841.2 1163.5,841.4 1165.3,841.6 1167.1,841.8 1168.8,841.9 1170.6,842.0 1172.4,842.1 1174.2,842.2 1175.9,842.2 1177.7,842.3 1179.5,842.4 1181.2,842.4 1183.0,842.5 1184.8,842.5 1186.6,842.5 1188.3,842.5 1190.1,842.5 1191.9,842.5 1193.7,842.5 1195.4,842.5 1197.2,842.5 1199.0,842.5 1200.7,842.5 1202.5,842.5 1204.3,842.5 1206.1,842.5 1207.8,842.5 1209.6,842.5 1209.6,842.5" fill="#bebbe3"/>
<polyline points="926.1,842.5 939.6,842.5 953.1,842.5 966.6,841.8 980.1,838.4 993.6,834.0 1007.1,828.2 1020.6,820.1 1034.1,809.2 1047.6,796.3 1061.1,778.6 1074.6,758.9 1088.1,742.5 1101.6,738.5 1115.1,751.4 1128.6,784.0 1142.1,816.7 1155.6,836.4 1169.1,841.1 1182.6,842.2 1196.1,842.5 1209.6,842.5" fill="none" stroke="#000" stroke-width="1.3" stroke-linejoin="round"/>
<polyline points="926.1,842.5 939.6,842.5 953.1,842.5 966.6,831.6 980.1,802.4 993.6,788.1 1007.1,783.0 1020.6,778.9 1034.1,775.2 1047.6,772.5 1061.1,771.1 1074.6,773.8 1088.1,781.3 1101.6,792.5 1115.1,807.8 1128.6,823.1 1142.1,836.2 1155.6,840.6 1169.1,842.0 1182.6,842.5 1196.1,842.5 1209.6,842.5" fill="none" stroke="#000" stroke-width="1.3" stroke-linejoin="round"/>
<rect x="817.8" y="634.3" width="21" height="21" fill="#b5e6d7" stroke="#222" stroke-width="0.9"/>
<rect x="817.8" y="657.2" width="21" height="21" fill="#ddb1f1" stroke="#222" stroke-width="0.9"/>
<text x="854.50" y="653.60" font-size="24.45" fill="#000" >ONT reads with detected barcodes</text>
<text x="854.50" y="675.50" font-size="24.45" fill="#000" >ONT reads without detected barcodes</text>
</svg>
</body></html>
